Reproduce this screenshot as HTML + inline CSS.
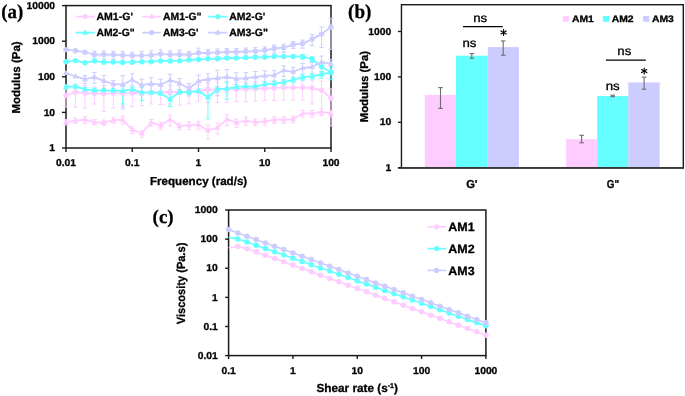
<!DOCTYPE html>
<html><head><meta charset="utf-8"><title>Rheology figure</title>
<style>
html,body{margin:0;padding:0;background:#fff;}
body{width:685px;height:396px;overflow:hidden;font-family:"Liberation Sans",sans-serif;}
#wrap{will-change:transform;width:685px;height:396px;}
svg{display:block;text-rendering:geometricPrecision;}
text{stroke:#000;stroke-width:0.3px;stroke-linejoin:round;}
</style></head><body>
<div id="wrap"><svg width="685" height="396" viewBox="0 0 685 396">
<rect x="66" y="5.6" width="265" height="142.4" fill="none" stroke="#1a1a1a" stroke-width="1.5"/>
<g>
<line x1="66" y1="88.98" x2="66" y2="107" stroke="#FFCCFF" stroke-width="1"/>
<line x1="63.8" y1="88.98" x2="68.2" y2="88.98" stroke="#FFCCFF" stroke-width="1"/>
<line x1="63.8" y1="107" x2="68.2" y2="107" stroke="#FFCCFF" stroke-width="1"/>
<line x1="66" y1="119.6" x2="66" y2="125.08" stroke="#FFCCFF" stroke-width="1"/>
<line x1="63.8" y1="119.6" x2="68.2" y2="119.6" stroke="#FFCCFF" stroke-width="1"/>
<line x1="63.8" y1="125.08" x2="68.2" y2="125.08" stroke="#FFCCFF" stroke-width="1"/>
<line x1="66" y1="84.8" x2="66" y2="89.1" stroke="#66FFFF" stroke-width="1"/>
<line x1="63.8" y1="84.8" x2="68.2" y2="84.8" stroke="#66FFFF" stroke-width="1"/>
<line x1="63.8" y1="89.1" x2="68.2" y2="89.1" stroke="#66FFFF" stroke-width="1"/>
<line x1="66" y1="61.2" x2="66" y2="62.42" stroke="#66FFFF" stroke-width="1"/>
<line x1="63.8" y1="61.2" x2="68.2" y2="61.2" stroke="#66FFFF" stroke-width="1"/>
<line x1="63.8" y1="62.42" x2="68.2" y2="62.42" stroke="#66FFFF" stroke-width="1"/>
<line x1="75.46" y1="84.59" x2="75.46" y2="107.3" stroke="#FFCCFF" stroke-width="1"/>
<line x1="73.26" y1="84.59" x2="77.66" y2="84.59" stroke="#FFCCFF" stroke-width="1"/>
<line x1="73.26" y1="107.3" x2="77.66" y2="107.3" stroke="#FFCCFF" stroke-width="1"/>
<line x1="75.46" y1="118.1" x2="75.46" y2="123.58" stroke="#FFCCFF" stroke-width="1"/>
<line x1="73.26" y1="118.1" x2="77.66" y2="118.1" stroke="#FFCCFF" stroke-width="1"/>
<line x1="73.26" y1="123.58" x2="77.66" y2="123.58" stroke="#FFCCFF" stroke-width="1"/>
<line x1="75.46" y1="84.4" x2="75.46" y2="88.7" stroke="#66FFFF" stroke-width="1"/>
<line x1="73.26" y1="84.4" x2="77.66" y2="84.4" stroke="#66FFFF" stroke-width="1"/>
<line x1="73.26" y1="88.7" x2="77.66" y2="88.7" stroke="#66FFFF" stroke-width="1"/>
<line x1="75.46" y1="60" x2="75.46" y2="61.22" stroke="#66FFFF" stroke-width="1"/>
<line x1="73.26" y1="60" x2="77.66" y2="60" stroke="#66FFFF" stroke-width="1"/>
<line x1="73.26" y1="61.22" x2="77.66" y2="61.22" stroke="#66FFFF" stroke-width="1"/>
<line x1="84.93" y1="85.41" x2="84.93" y2="108" stroke="#FFCCFF" stroke-width="1"/>
<line x1="82.73" y1="85.41" x2="87.13" y2="85.41" stroke="#FFCCFF" stroke-width="1"/>
<line x1="82.73" y1="108" x2="87.13" y2="108" stroke="#FFCCFF" stroke-width="1"/>
<line x1="84.93" y1="116.7" x2="84.93" y2="123.43" stroke="#FFCCFF" stroke-width="1"/>
<line x1="82.73" y1="116.7" x2="87.13" y2="116.7" stroke="#FFCCFF" stroke-width="1"/>
<line x1="82.73" y1="123.43" x2="87.13" y2="123.43" stroke="#FFCCFF" stroke-width="1"/>
<line x1="84.93" y1="75.5" x2="84.93" y2="83.8" stroke="#CCCCFF" stroke-width="1"/>
<line x1="82.73" y1="75.5" x2="87.13" y2="75.5" stroke="#CCCCFF" stroke-width="1"/>
<line x1="82.73" y1="83.8" x2="87.13" y2="83.8" stroke="#CCCCFF" stroke-width="1"/>
<line x1="84.93" y1="87.4" x2="84.93" y2="91.7" stroke="#66FFFF" stroke-width="1"/>
<line x1="82.73" y1="87.4" x2="87.13" y2="87.4" stroke="#66FFFF" stroke-width="1"/>
<line x1="82.73" y1="91.7" x2="87.13" y2="91.7" stroke="#66FFFF" stroke-width="1"/>
<line x1="84.93" y1="62.2" x2="84.93" y2="63.42" stroke="#66FFFF" stroke-width="1"/>
<line x1="82.73" y1="62.2" x2="87.13" y2="62.2" stroke="#66FFFF" stroke-width="1"/>
<line x1="82.73" y1="63.42" x2="87.13" y2="63.42" stroke="#66FFFF" stroke-width="1"/>
<line x1="94.39" y1="87.04" x2="94.39" y2="104" stroke="#FFCCFF" stroke-width="1"/>
<line x1="92.19" y1="87.04" x2="96.59" y2="87.04" stroke="#FFCCFF" stroke-width="1"/>
<line x1="92.19" y1="104" x2="96.59" y2="104" stroke="#FFCCFF" stroke-width="1"/>
<line x1="94.39" y1="119.6" x2="94.39" y2="125.08" stroke="#FFCCFF" stroke-width="1"/>
<line x1="92.19" y1="119.6" x2="96.59" y2="119.6" stroke="#FFCCFF" stroke-width="1"/>
<line x1="92.19" y1="125.08" x2="96.59" y2="125.08" stroke="#FFCCFF" stroke-width="1"/>
<line x1="94.39" y1="72.7" x2="94.39" y2="83.27" stroke="#CCCCFF" stroke-width="1"/>
<line x1="92.19" y1="72.7" x2="96.59" y2="72.7" stroke="#CCCCFF" stroke-width="1"/>
<line x1="92.19" y1="83.27" x2="96.59" y2="83.27" stroke="#CCCCFF" stroke-width="1"/>
<line x1="94.39" y1="88.3" x2="94.39" y2="92.6" stroke="#66FFFF" stroke-width="1"/>
<line x1="92.19" y1="88.3" x2="96.59" y2="88.3" stroke="#66FFFF" stroke-width="1"/>
<line x1="92.19" y1="92.6" x2="96.59" y2="92.6" stroke="#66FFFF" stroke-width="1"/>
<line x1="94.39" y1="51.2" x2="94.39" y2="59.23" stroke="#CCCCFF" stroke-width="1"/>
<line x1="92.19" y1="51.2" x2="96.59" y2="51.2" stroke="#CCCCFF" stroke-width="1"/>
<line x1="92.19" y1="59.23" x2="96.59" y2="59.23" stroke="#CCCCFF" stroke-width="1"/>
<line x1="94.39" y1="60.3" x2="94.39" y2="61.52" stroke="#66FFFF" stroke-width="1"/>
<line x1="92.19" y1="60.3" x2="96.59" y2="60.3" stroke="#66FFFF" stroke-width="1"/>
<line x1="92.19" y1="61.52" x2="96.59" y2="61.52" stroke="#66FFFF" stroke-width="1"/>
<line x1="103.86" y1="85.54" x2="103.86" y2="111.4" stroke="#FFCCFF" stroke-width="1"/>
<line x1="101.66" y1="85.54" x2="106.06" y2="85.54" stroke="#FFCCFF" stroke-width="1"/>
<line x1="101.66" y1="111.4" x2="106.06" y2="111.4" stroke="#FFCCFF" stroke-width="1"/>
<line x1="103.86" y1="120.2" x2="103.86" y2="125.68" stroke="#FFCCFF" stroke-width="1"/>
<line x1="101.66" y1="120.2" x2="106.06" y2="120.2" stroke="#FFCCFF" stroke-width="1"/>
<line x1="101.66" y1="125.68" x2="106.06" y2="125.68" stroke="#FFCCFF" stroke-width="1"/>
<line x1="103.86" y1="75.5" x2="103.86" y2="89.27" stroke="#CCCCFF" stroke-width="1"/>
<line x1="101.66" y1="75.5" x2="106.06" y2="75.5" stroke="#CCCCFF" stroke-width="1"/>
<line x1="101.66" y1="89.27" x2="106.06" y2="89.27" stroke="#CCCCFF" stroke-width="1"/>
<line x1="103.86" y1="88.3" x2="103.86" y2="92.6" stroke="#66FFFF" stroke-width="1"/>
<line x1="101.66" y1="88.3" x2="106.06" y2="88.3" stroke="#66FFFF" stroke-width="1"/>
<line x1="101.66" y1="92.6" x2="106.06" y2="92.6" stroke="#66FFFF" stroke-width="1"/>
<line x1="103.86" y1="50.9" x2="103.86" y2="58.93" stroke="#CCCCFF" stroke-width="1"/>
<line x1="101.66" y1="50.9" x2="106.06" y2="50.9" stroke="#CCCCFF" stroke-width="1"/>
<line x1="101.66" y1="58.93" x2="106.06" y2="58.93" stroke="#CCCCFF" stroke-width="1"/>
<line x1="103.86" y1="61.7" x2="103.86" y2="62.92" stroke="#66FFFF" stroke-width="1"/>
<line x1="101.66" y1="61.7" x2="106.06" y2="61.7" stroke="#66FFFF" stroke-width="1"/>
<line x1="101.66" y1="62.92" x2="106.06" y2="62.92" stroke="#66FFFF" stroke-width="1"/>
<line x1="113.32" y1="85.9" x2="113.32" y2="108" stroke="#FFCCFF" stroke-width="1"/>
<line x1="111.12" y1="85.9" x2="115.52" y2="85.9" stroke="#FFCCFF" stroke-width="1"/>
<line x1="111.12" y1="108" x2="115.52" y2="108" stroke="#FFCCFF" stroke-width="1"/>
<line x1="113.32" y1="117.7" x2="113.32" y2="123.18" stroke="#FFCCFF" stroke-width="1"/>
<line x1="111.12" y1="117.7" x2="115.52" y2="117.7" stroke="#FFCCFF" stroke-width="1"/>
<line x1="111.12" y1="123.18" x2="115.52" y2="123.18" stroke="#FFCCFF" stroke-width="1"/>
<line x1="113.32" y1="80.6" x2="113.32" y2="88.1" stroke="#CCCCFF" stroke-width="1"/>
<line x1="111.12" y1="80.6" x2="115.52" y2="80.6" stroke="#CCCCFF" stroke-width="1"/>
<line x1="111.12" y1="88.1" x2="115.52" y2="88.1" stroke="#CCCCFF" stroke-width="1"/>
<line x1="113.32" y1="88.6" x2="113.32" y2="92.9" stroke="#66FFFF" stroke-width="1"/>
<line x1="111.12" y1="88.6" x2="115.52" y2="88.6" stroke="#66FFFF" stroke-width="1"/>
<line x1="111.12" y1="92.9" x2="115.52" y2="92.9" stroke="#66FFFF" stroke-width="1"/>
<line x1="113.32" y1="51.2" x2="113.32" y2="59.23" stroke="#CCCCFF" stroke-width="1"/>
<line x1="111.12" y1="51.2" x2="115.52" y2="51.2" stroke="#CCCCFF" stroke-width="1"/>
<line x1="111.12" y1="59.23" x2="115.52" y2="59.23" stroke="#CCCCFF" stroke-width="1"/>
<line x1="113.32" y1="61.4" x2="113.32" y2="62.62" stroke="#66FFFF" stroke-width="1"/>
<line x1="111.12" y1="61.4" x2="115.52" y2="61.4" stroke="#66FFFF" stroke-width="1"/>
<line x1="111.12" y1="62.62" x2="115.52" y2="62.62" stroke="#66FFFF" stroke-width="1"/>
<line x1="122.79" y1="86.28" x2="122.79" y2="106.5" stroke="#FFCCFF" stroke-width="1"/>
<line x1="120.59" y1="86.28" x2="124.99" y2="86.28" stroke="#FFCCFF" stroke-width="1"/>
<line x1="120.59" y1="106.5" x2="124.99" y2="106.5" stroke="#FFCCFF" stroke-width="1"/>
<line x1="122.79" y1="116.1" x2="122.79" y2="124.13" stroke="#FFCCFF" stroke-width="1"/>
<line x1="120.59" y1="116.1" x2="124.99" y2="116.1" stroke="#FFCCFF" stroke-width="1"/>
<line x1="120.59" y1="124.13" x2="124.99" y2="124.13" stroke="#FFCCFF" stroke-width="1"/>
<line x1="122.79" y1="75.7" x2="122.79" y2="108.82" stroke="#CCCCFF" stroke-width="1"/>
<line x1="120.59" y1="75.7" x2="124.99" y2="75.7" stroke="#CCCCFF" stroke-width="1"/>
<line x1="120.59" y1="108.82" x2="124.99" y2="108.82" stroke="#CCCCFF" stroke-width="1"/>
<line x1="122.79" y1="83.91" x2="122.79" y2="104" stroke="#66FFFF" stroke-width="1"/>
<line x1="120.59" y1="83.91" x2="124.99" y2="83.91" stroke="#66FFFF" stroke-width="1"/>
<line x1="120.59" y1="104" x2="124.99" y2="104" stroke="#66FFFF" stroke-width="1"/>
<line x1="122.79" y1="51.4" x2="122.79" y2="60.25" stroke="#CCCCFF" stroke-width="1"/>
<line x1="120.59" y1="51.4" x2="124.99" y2="51.4" stroke="#CCCCFF" stroke-width="1"/>
<line x1="120.59" y1="60.25" x2="124.99" y2="60.25" stroke="#CCCCFF" stroke-width="1"/>
<line x1="122.79" y1="61.8" x2="122.79" y2="63.02" stroke="#66FFFF" stroke-width="1"/>
<line x1="120.59" y1="61.8" x2="124.99" y2="61.8" stroke="#66FFFF" stroke-width="1"/>
<line x1="120.59" y1="63.02" x2="124.99" y2="63.02" stroke="#66FFFF" stroke-width="1"/>
<line x1="132.25" y1="85.78" x2="132.25" y2="106.5" stroke="#FFCCFF" stroke-width="1"/>
<line x1="130.05" y1="85.78" x2="134.45" y2="85.78" stroke="#FFCCFF" stroke-width="1"/>
<line x1="130.05" y1="106.5" x2="134.45" y2="106.5" stroke="#FFCCFF" stroke-width="1"/>
<line x1="132.25" y1="126.8" x2="132.25" y2="133.53" stroke="#FFCCFF" stroke-width="1"/>
<line x1="130.05" y1="126.8" x2="134.45" y2="126.8" stroke="#FFCCFF" stroke-width="1"/>
<line x1="130.05" y1="133.53" x2="134.45" y2="133.53" stroke="#FFCCFF" stroke-width="1"/>
<line x1="132.25" y1="73.7" x2="132.25" y2="89.64" stroke="#CCCCFF" stroke-width="1"/>
<line x1="130.05" y1="73.7" x2="134.45" y2="73.7" stroke="#CCCCFF" stroke-width="1"/>
<line x1="130.05" y1="89.64" x2="134.45" y2="89.64" stroke="#CCCCFF" stroke-width="1"/>
<line x1="132.25" y1="86.9" x2="132.25" y2="92.38" stroke="#66FFFF" stroke-width="1"/>
<line x1="130.05" y1="86.9" x2="134.45" y2="86.9" stroke="#66FFFF" stroke-width="1"/>
<line x1="130.05" y1="92.38" x2="134.45" y2="92.38" stroke="#66FFFF" stroke-width="1"/>
<line x1="132.25" y1="52.1" x2="132.25" y2="60.4" stroke="#CCCCFF" stroke-width="1"/>
<line x1="130.05" y1="52.1" x2="134.45" y2="52.1" stroke="#CCCCFF" stroke-width="1"/>
<line x1="130.05" y1="60.4" x2="134.45" y2="60.4" stroke="#CCCCFF" stroke-width="1"/>
<line x1="132.25" y1="61.6" x2="132.25" y2="62.82" stroke="#66FFFF" stroke-width="1"/>
<line x1="130.05" y1="61.6" x2="134.45" y2="61.6" stroke="#66FFFF" stroke-width="1"/>
<line x1="130.05" y1="62.82" x2="134.45" y2="62.82" stroke="#66FFFF" stroke-width="1"/>
<line x1="141.71" y1="86.05" x2="141.71" y2="105.5" stroke="#FFCCFF" stroke-width="1"/>
<line x1="139.51" y1="86.05" x2="143.91" y2="86.05" stroke="#FFCCFF" stroke-width="1"/>
<line x1="139.51" y1="105.5" x2="143.91" y2="105.5" stroke="#FFCCFF" stroke-width="1"/>
<line x1="141.71" y1="130.5" x2="141.71" y2="137.23" stroke="#FFCCFF" stroke-width="1"/>
<line x1="139.51" y1="130.5" x2="143.91" y2="130.5" stroke="#FFCCFF" stroke-width="1"/>
<line x1="139.51" y1="137.23" x2="143.91" y2="137.23" stroke="#FFCCFF" stroke-width="1"/>
<line x1="141.71" y1="79.2" x2="141.71" y2="95.14" stroke="#CCCCFF" stroke-width="1"/>
<line x1="139.51" y1="79.2" x2="143.91" y2="79.2" stroke="#CCCCFF" stroke-width="1"/>
<line x1="139.51" y1="95.14" x2="143.91" y2="95.14" stroke="#CCCCFF" stroke-width="1"/>
<line x1="141.71" y1="87.11" x2="141.71" y2="100.5" stroke="#66FFFF" stroke-width="1"/>
<line x1="139.51" y1="87.11" x2="143.91" y2="87.11" stroke="#66FFFF" stroke-width="1"/>
<line x1="139.51" y1="100.5" x2="143.91" y2="100.5" stroke="#66FFFF" stroke-width="1"/>
<line x1="141.71" y1="51.4" x2="141.71" y2="61.38" stroke="#CCCCFF" stroke-width="1"/>
<line x1="139.51" y1="51.4" x2="143.91" y2="51.4" stroke="#CCCCFF" stroke-width="1"/>
<line x1="139.51" y1="61.38" x2="143.91" y2="61.38" stroke="#CCCCFF" stroke-width="1"/>
<line x1="141.71" y1="61.1" x2="141.71" y2="62.32" stroke="#66FFFF" stroke-width="1"/>
<line x1="139.51" y1="61.1" x2="143.91" y2="61.1" stroke="#66FFFF" stroke-width="1"/>
<line x1="139.51" y1="62.32" x2="143.91" y2="62.32" stroke="#66FFFF" stroke-width="1"/>
<line x1="151.18" y1="85.88" x2="151.18" y2="103.9" stroke="#FFCCFF" stroke-width="1"/>
<line x1="148.98" y1="85.88" x2="153.38" y2="85.88" stroke="#FFCCFF" stroke-width="1"/>
<line x1="148.98" y1="103.9" x2="153.38" y2="103.9" stroke="#FFCCFF" stroke-width="1"/>
<line x1="151.18" y1="119.5" x2="151.18" y2="126.23" stroke="#FFCCFF" stroke-width="1"/>
<line x1="148.98" y1="119.5" x2="153.38" y2="119.5" stroke="#FFCCFF" stroke-width="1"/>
<line x1="148.98" y1="126.23" x2="153.38" y2="126.23" stroke="#FFCCFF" stroke-width="1"/>
<line x1="151.18" y1="77.6" x2="151.18" y2="93.54" stroke="#CCCCFF" stroke-width="1"/>
<line x1="148.98" y1="77.6" x2="153.38" y2="77.6" stroke="#CCCCFF" stroke-width="1"/>
<line x1="148.98" y1="93.54" x2="153.38" y2="93.54" stroke="#CCCCFF" stroke-width="1"/>
<line x1="151.18" y1="90.4" x2="151.18" y2="94.7" stroke="#66FFFF" stroke-width="1"/>
<line x1="148.98" y1="90.4" x2="153.38" y2="90.4" stroke="#66FFFF" stroke-width="1"/>
<line x1="148.98" y1="94.7" x2="153.38" y2="94.7" stroke="#66FFFF" stroke-width="1"/>
<line x1="151.18" y1="50.9" x2="151.18" y2="61.18" stroke="#CCCCFF" stroke-width="1"/>
<line x1="148.98" y1="50.9" x2="153.38" y2="50.9" stroke="#CCCCFF" stroke-width="1"/>
<line x1="148.98" y1="61.18" x2="153.38" y2="61.18" stroke="#CCCCFF" stroke-width="1"/>
<line x1="151.18" y1="61.1" x2="151.18" y2="62.32" stroke="#66FFFF" stroke-width="1"/>
<line x1="148.98" y1="61.1" x2="153.38" y2="61.1" stroke="#66FFFF" stroke-width="1"/>
<line x1="148.98" y1="62.32" x2="153.38" y2="62.32" stroke="#66FFFF" stroke-width="1"/>
<line x1="160.64" y1="85.7" x2="160.64" y2="104.5" stroke="#FFCCFF" stroke-width="1"/>
<line x1="158.44" y1="85.7" x2="162.84" y2="85.7" stroke="#FFCCFF" stroke-width="1"/>
<line x1="158.44" y1="104.5" x2="162.84" y2="104.5" stroke="#FFCCFF" stroke-width="1"/>
<line x1="160.64" y1="122.4" x2="160.64" y2="129.13" stroke="#FFCCFF" stroke-width="1"/>
<line x1="158.44" y1="122.4" x2="162.84" y2="122.4" stroke="#FFCCFF" stroke-width="1"/>
<line x1="158.44" y1="129.13" x2="162.84" y2="129.13" stroke="#FFCCFF" stroke-width="1"/>
<line x1="160.64" y1="79.2" x2="160.64" y2="93.32" stroke="#CCCCFF" stroke-width="1"/>
<line x1="158.44" y1="79.2" x2="162.84" y2="79.2" stroke="#CCCCFF" stroke-width="1"/>
<line x1="158.44" y1="93.32" x2="162.84" y2="93.32" stroke="#CCCCFF" stroke-width="1"/>
<line x1="160.64" y1="90.9" x2="160.64" y2="95.2" stroke="#66FFFF" stroke-width="1"/>
<line x1="158.44" y1="90.9" x2="162.84" y2="90.9" stroke="#66FFFF" stroke-width="1"/>
<line x1="158.44" y1="95.2" x2="162.84" y2="95.2" stroke="#66FFFF" stroke-width="1"/>
<line x1="160.64" y1="49.8" x2="160.64" y2="59.5" stroke="#CCCCFF" stroke-width="1"/>
<line x1="158.44" y1="49.8" x2="162.84" y2="49.8" stroke="#CCCCFF" stroke-width="1"/>
<line x1="158.44" y1="59.5" x2="162.84" y2="59.5" stroke="#CCCCFF" stroke-width="1"/>
<line x1="160.64" y1="60.3" x2="160.64" y2="61.52" stroke="#66FFFF" stroke-width="1"/>
<line x1="158.44" y1="60.3" x2="162.84" y2="60.3" stroke="#66FFFF" stroke-width="1"/>
<line x1="158.44" y1="61.52" x2="162.84" y2="61.52" stroke="#66FFFF" stroke-width="1"/>
<line x1="170.11" y1="85.4" x2="170.11" y2="104.2" stroke="#FFCCFF" stroke-width="1"/>
<line x1="167.91" y1="85.4" x2="172.31" y2="85.4" stroke="#FFCCFF" stroke-width="1"/>
<line x1="167.91" y1="104.2" x2="172.31" y2="104.2" stroke="#FFCCFF" stroke-width="1"/>
<line x1="170.11" y1="115.1" x2="170.11" y2="125.97" stroke="#FFCCFF" stroke-width="1"/>
<line x1="167.91" y1="115.1" x2="172.31" y2="115.1" stroke="#FFCCFF" stroke-width="1"/>
<line x1="167.91" y1="125.97" x2="172.31" y2="125.97" stroke="#FFCCFF" stroke-width="1"/>
<line x1="170.11" y1="74.2" x2="170.11" y2="90.14" stroke="#CCCCFF" stroke-width="1"/>
<line x1="167.91" y1="74.2" x2="172.31" y2="74.2" stroke="#CCCCFF" stroke-width="1"/>
<line x1="167.91" y1="90.14" x2="172.31" y2="90.14" stroke="#CCCCFF" stroke-width="1"/>
<line x1="170.11" y1="94.55" x2="170.11" y2="106.5" stroke="#66FFFF" stroke-width="1"/>
<line x1="167.91" y1="94.55" x2="172.31" y2="94.55" stroke="#66FFFF" stroke-width="1"/>
<line x1="167.91" y1="106.5" x2="172.31" y2="106.5" stroke="#66FFFF" stroke-width="1"/>
<line x1="170.11" y1="50.9" x2="170.11" y2="59.75" stroke="#CCCCFF" stroke-width="1"/>
<line x1="167.91" y1="50.9" x2="172.31" y2="50.9" stroke="#CCCCFF" stroke-width="1"/>
<line x1="167.91" y1="59.75" x2="172.31" y2="59.75" stroke="#CCCCFF" stroke-width="1"/>
<line x1="170.11" y1="60.3" x2="170.11" y2="61.52" stroke="#66FFFF" stroke-width="1"/>
<line x1="167.91" y1="60.3" x2="172.31" y2="60.3" stroke="#66FFFF" stroke-width="1"/>
<line x1="167.91" y1="61.52" x2="172.31" y2="61.52" stroke="#66FFFF" stroke-width="1"/>
<line x1="179.57" y1="85.17" x2="179.57" y2="105" stroke="#FFCCFF" stroke-width="1"/>
<line x1="177.37" y1="85.17" x2="181.77" y2="85.17" stroke="#FFCCFF" stroke-width="1"/>
<line x1="177.37" y1="105" x2="181.77" y2="105" stroke="#FFCCFF" stroke-width="1"/>
<line x1="179.57" y1="123.2" x2="179.57" y2="129.93" stroke="#FFCCFF" stroke-width="1"/>
<line x1="177.37" y1="123.2" x2="181.77" y2="123.2" stroke="#FFCCFF" stroke-width="1"/>
<line x1="177.37" y1="129.93" x2="181.77" y2="129.93" stroke="#FFCCFF" stroke-width="1"/>
<line x1="179.57" y1="78.7" x2="179.57" y2="89.57" stroke="#CCCCFF" stroke-width="1"/>
<line x1="177.37" y1="78.7" x2="181.77" y2="78.7" stroke="#CCCCFF" stroke-width="1"/>
<line x1="177.37" y1="89.57" x2="181.77" y2="89.57" stroke="#CCCCFF" stroke-width="1"/>
<line x1="179.57" y1="89.8" x2="179.57" y2="94.1" stroke="#66FFFF" stroke-width="1"/>
<line x1="177.37" y1="89.8" x2="181.77" y2="89.8" stroke="#66FFFF" stroke-width="1"/>
<line x1="177.37" y1="94.1" x2="181.77" y2="94.1" stroke="#66FFFF" stroke-width="1"/>
<line x1="179.57" y1="50.3" x2="179.57" y2="60" stroke="#CCCCFF" stroke-width="1"/>
<line x1="177.37" y1="50.3" x2="181.77" y2="50.3" stroke="#CCCCFF" stroke-width="1"/>
<line x1="177.37" y1="60" x2="181.77" y2="60" stroke="#CCCCFF" stroke-width="1"/>
<line x1="179.57" y1="60.3" x2="179.57" y2="61.52" stroke="#66FFFF" stroke-width="1"/>
<line x1="177.37" y1="60.3" x2="181.77" y2="60.3" stroke="#66FFFF" stroke-width="1"/>
<line x1="177.37" y1="61.52" x2="181.77" y2="61.52" stroke="#66FFFF" stroke-width="1"/>
<line x1="189.04" y1="85.1" x2="189.04" y2="103.9" stroke="#FFCCFF" stroke-width="1"/>
<line x1="186.84" y1="85.1" x2="191.24" y2="85.1" stroke="#FFCCFF" stroke-width="1"/>
<line x1="186.84" y1="103.9" x2="191.24" y2="103.9" stroke="#FFCCFF" stroke-width="1"/>
<line x1="189.04" y1="121.6" x2="189.04" y2="129.63" stroke="#FFCCFF" stroke-width="1"/>
<line x1="186.84" y1="121.6" x2="191.24" y2="121.6" stroke="#FFCCFF" stroke-width="1"/>
<line x1="186.84" y1="129.63" x2="191.24" y2="129.63" stroke="#FFCCFF" stroke-width="1"/>
<line x1="189.04" y1="83.5" x2="189.04" y2="95.94" stroke="#CCCCFF" stroke-width="1"/>
<line x1="186.84" y1="83.5" x2="191.24" y2="83.5" stroke="#CCCCFF" stroke-width="1"/>
<line x1="186.84" y1="95.94" x2="191.24" y2="95.94" stroke="#CCCCFF" stroke-width="1"/>
<line x1="189.04" y1="90.1" x2="189.04" y2="94.4" stroke="#66FFFF" stroke-width="1"/>
<line x1="186.84" y1="90.1" x2="191.24" y2="90.1" stroke="#66FFFF" stroke-width="1"/>
<line x1="186.84" y1="94.4" x2="191.24" y2="94.4" stroke="#66FFFF" stroke-width="1"/>
<line x1="189.04" y1="51.4" x2="189.04" y2="58.9" stroke="#CCCCFF" stroke-width="1"/>
<line x1="186.84" y1="51.4" x2="191.24" y2="51.4" stroke="#CCCCFF" stroke-width="1"/>
<line x1="186.84" y1="58.9" x2="191.24" y2="58.9" stroke="#CCCCFF" stroke-width="1"/>
<line x1="189.04" y1="59.4" x2="189.04" y2="60.62" stroke="#66FFFF" stroke-width="1"/>
<line x1="186.84" y1="59.4" x2="191.24" y2="59.4" stroke="#66FFFF" stroke-width="1"/>
<line x1="186.84" y1="60.62" x2="191.24" y2="60.62" stroke="#66FFFF" stroke-width="1"/>
<line x1="198.5" y1="84.91" x2="198.5" y2="101.2" stroke="#FFCCFF" stroke-width="1"/>
<line x1="196.3" y1="84.91" x2="200.7" y2="84.91" stroke="#FFCCFF" stroke-width="1"/>
<line x1="196.3" y1="101.2" x2="200.7" y2="101.2" stroke="#FFCCFF" stroke-width="1"/>
<line x1="198.5" y1="121.2" x2="198.5" y2="129.23" stroke="#FFCCFF" stroke-width="1"/>
<line x1="196.3" y1="121.2" x2="200.7" y2="121.2" stroke="#FFCCFF" stroke-width="1"/>
<line x1="196.3" y1="129.23" x2="200.7" y2="129.23" stroke="#FFCCFF" stroke-width="1"/>
<line x1="198.5" y1="75" x2="198.5" y2="90.94" stroke="#CCCCFF" stroke-width="1"/>
<line x1="196.3" y1="75" x2="200.7" y2="75" stroke="#CCCCFF" stroke-width="1"/>
<line x1="196.3" y1="90.94" x2="200.7" y2="90.94" stroke="#CCCCFF" stroke-width="1"/>
<line x1="198.5" y1="89" x2="198.5" y2="93.3" stroke="#66FFFF" stroke-width="1"/>
<line x1="196.3" y1="89" x2="200.7" y2="89" stroke="#66FFFF" stroke-width="1"/>
<line x1="196.3" y1="93.3" x2="200.7" y2="93.3" stroke="#66FFFF" stroke-width="1"/>
<line x1="198.5" y1="48.2" x2="198.5" y2="59.38" stroke="#CCCCFF" stroke-width="1"/>
<line x1="196.3" y1="48.2" x2="200.7" y2="48.2" stroke="#CCCCFF" stroke-width="1"/>
<line x1="196.3" y1="59.38" x2="200.7" y2="59.38" stroke="#CCCCFF" stroke-width="1"/>
<line x1="198.5" y1="58.9" x2="198.5" y2="60.12" stroke="#66FFFF" stroke-width="1"/>
<line x1="196.3" y1="58.9" x2="200.7" y2="58.9" stroke="#66FFFF" stroke-width="1"/>
<line x1="196.3" y1="60.12" x2="200.7" y2="60.12" stroke="#66FFFF" stroke-width="1"/>
<line x1="207.96" y1="82.77" x2="207.96" y2="102.6" stroke="#FFCCFF" stroke-width="1"/>
<line x1="205.76" y1="82.77" x2="210.16" y2="82.77" stroke="#FFCCFF" stroke-width="1"/>
<line x1="205.76" y1="102.6" x2="210.16" y2="102.6" stroke="#FFCCFF" stroke-width="1"/>
<line x1="207.96" y1="125" x2="207.96" y2="139.12" stroke="#FFCCFF" stroke-width="1"/>
<line x1="205.76" y1="125" x2="210.16" y2="125" stroke="#FFCCFF" stroke-width="1"/>
<line x1="205.76" y1="139.12" x2="210.16" y2="139.12" stroke="#FFCCFF" stroke-width="1"/>
<line x1="207.96" y1="73.7" x2="207.96" y2="87.82" stroke="#CCCCFF" stroke-width="1"/>
<line x1="205.76" y1="73.7" x2="210.16" y2="73.7" stroke="#CCCCFF" stroke-width="1"/>
<line x1="205.76" y1="87.82" x2="210.16" y2="87.82" stroke="#CCCCFF" stroke-width="1"/>
<line x1="207.96" y1="88.64" x2="207.96" y2="118.8" stroke="#66FFFF" stroke-width="1"/>
<line x1="205.76" y1="88.64" x2="210.16" y2="88.64" stroke="#66FFFF" stroke-width="1"/>
<line x1="205.76" y1="118.8" x2="210.16" y2="118.8" stroke="#66FFFF" stroke-width="1"/>
<line x1="207.96" y1="49.5" x2="207.96" y2="57.53" stroke="#CCCCFF" stroke-width="1"/>
<line x1="205.76" y1="49.5" x2="210.16" y2="49.5" stroke="#CCCCFF" stroke-width="1"/>
<line x1="205.76" y1="57.53" x2="210.16" y2="57.53" stroke="#CCCCFF" stroke-width="1"/>
<line x1="207.96" y1="58.2" x2="207.96" y2="59.42" stroke="#66FFFF" stroke-width="1"/>
<line x1="205.76" y1="58.2" x2="210.16" y2="58.2" stroke="#66FFFF" stroke-width="1"/>
<line x1="205.76" y1="59.42" x2="210.16" y2="59.42" stroke="#66FFFF" stroke-width="1"/>
<line x1="217.43" y1="82.38" x2="217.43" y2="102.6" stroke="#FFCCFF" stroke-width="1"/>
<line x1="215.23" y1="82.38" x2="219.63" y2="82.38" stroke="#FFCCFF" stroke-width="1"/>
<line x1="215.23" y1="102.6" x2="219.63" y2="102.6" stroke="#FFCCFF" stroke-width="1"/>
<line x1="217.43" y1="123.1" x2="217.43" y2="133.97" stroke="#FFCCFF" stroke-width="1"/>
<line x1="215.23" y1="123.1" x2="219.63" y2="123.1" stroke="#FFCCFF" stroke-width="1"/>
<line x1="215.23" y1="133.97" x2="219.63" y2="133.97" stroke="#FFCCFF" stroke-width="1"/>
<line x1="217.43" y1="70.2" x2="217.43" y2="95.71" stroke="#CCCCFF" stroke-width="1"/>
<line x1="215.23" y1="70.2" x2="219.63" y2="70.2" stroke="#CCCCFF" stroke-width="1"/>
<line x1="215.23" y1="95.71" x2="219.63" y2="95.71" stroke="#CCCCFF" stroke-width="1"/>
<line x1="217.43" y1="86.7" x2="217.43" y2="92.18" stroke="#66FFFF" stroke-width="1"/>
<line x1="215.23" y1="86.7" x2="219.63" y2="86.7" stroke="#66FFFF" stroke-width="1"/>
<line x1="215.23" y1="92.18" x2="219.63" y2="92.18" stroke="#66FFFF" stroke-width="1"/>
<line x1="217.43" y1="48.9" x2="217.43" y2="56.93" stroke="#CCCCFF" stroke-width="1"/>
<line x1="215.23" y1="48.9" x2="219.63" y2="48.9" stroke="#CCCCFF" stroke-width="1"/>
<line x1="215.23" y1="56.93" x2="219.63" y2="56.93" stroke="#CCCCFF" stroke-width="1"/>
<line x1="217.43" y1="58.2" x2="217.43" y2="59.42" stroke="#66FFFF" stroke-width="1"/>
<line x1="215.23" y1="58.2" x2="219.63" y2="58.2" stroke="#66FFFF" stroke-width="1"/>
<line x1="215.23" y1="59.42" x2="219.63" y2="59.42" stroke="#66FFFF" stroke-width="1"/>
<line x1="226.89" y1="81.75" x2="226.89" y2="102.6" stroke="#FFCCFF" stroke-width="1"/>
<line x1="224.69" y1="81.75" x2="229.09" y2="81.75" stroke="#FFCCFF" stroke-width="1"/>
<line x1="224.69" y1="102.6" x2="229.09" y2="102.6" stroke="#FFCCFF" stroke-width="1"/>
<line x1="226.89" y1="114.6" x2="226.89" y2="125.47" stroke="#FFCCFF" stroke-width="1"/>
<line x1="224.69" y1="114.6" x2="229.09" y2="114.6" stroke="#FFCCFF" stroke-width="1"/>
<line x1="224.69" y1="125.47" x2="229.09" y2="125.47" stroke="#FFCCFF" stroke-width="1"/>
<line x1="226.89" y1="69.5" x2="226.89" y2="92.14" stroke="#CCCCFF" stroke-width="1"/>
<line x1="224.69" y1="69.5" x2="229.09" y2="69.5" stroke="#CCCCFF" stroke-width="1"/>
<line x1="224.69" y1="92.14" x2="229.09" y2="92.14" stroke="#CCCCFF" stroke-width="1"/>
<line x1="226.89" y1="82.34" x2="226.89" y2="99.3" stroke="#66FFFF" stroke-width="1"/>
<line x1="224.69" y1="82.34" x2="229.09" y2="82.34" stroke="#66FFFF" stroke-width="1"/>
<line x1="224.69" y1="99.3" x2="229.09" y2="99.3" stroke="#66FFFF" stroke-width="1"/>
<line x1="226.89" y1="48.5" x2="226.89" y2="56.53" stroke="#CCCCFF" stroke-width="1"/>
<line x1="224.69" y1="48.5" x2="229.09" y2="48.5" stroke="#CCCCFF" stroke-width="1"/>
<line x1="224.69" y1="56.53" x2="229.09" y2="56.53" stroke="#CCCCFF" stroke-width="1"/>
<line x1="226.89" y1="57.4" x2="226.89" y2="58.62" stroke="#66FFFF" stroke-width="1"/>
<line x1="224.69" y1="57.4" x2="229.09" y2="57.4" stroke="#66FFFF" stroke-width="1"/>
<line x1="224.69" y1="58.62" x2="229.09" y2="58.62" stroke="#66FFFF" stroke-width="1"/>
<line x1="236.36" y1="82.05" x2="236.36" y2="101.5" stroke="#FFCCFF" stroke-width="1"/>
<line x1="234.16" y1="82.05" x2="238.56" y2="82.05" stroke="#FFCCFF" stroke-width="1"/>
<line x1="234.16" y1="101.5" x2="238.56" y2="101.5" stroke="#FFCCFF" stroke-width="1"/>
<line x1="236.36" y1="119.2" x2="236.36" y2="127.23" stroke="#FFCCFF" stroke-width="1"/>
<line x1="234.16" y1="119.2" x2="238.56" y2="119.2" stroke="#FFCCFF" stroke-width="1"/>
<line x1="234.16" y1="127.23" x2="238.56" y2="127.23" stroke="#FFCCFF" stroke-width="1"/>
<line x1="236.36" y1="72.8" x2="236.36" y2="88.74" stroke="#CCCCFF" stroke-width="1"/>
<line x1="234.16" y1="72.8" x2="238.56" y2="72.8" stroke="#CCCCFF" stroke-width="1"/>
<line x1="234.16" y1="88.74" x2="238.56" y2="88.74" stroke="#CCCCFF" stroke-width="1"/>
<line x1="236.36" y1="84.7" x2="236.36" y2="90.18" stroke="#66FFFF" stroke-width="1"/>
<line x1="234.16" y1="84.7" x2="238.56" y2="84.7" stroke="#66FFFF" stroke-width="1"/>
<line x1="234.16" y1="90.18" x2="238.56" y2="90.18" stroke="#66FFFF" stroke-width="1"/>
<line x1="236.36" y1="48.5" x2="236.36" y2="56.53" stroke="#CCCCFF" stroke-width="1"/>
<line x1="234.16" y1="48.5" x2="238.56" y2="48.5" stroke="#CCCCFF" stroke-width="1"/>
<line x1="234.16" y1="56.53" x2="238.56" y2="56.53" stroke="#CCCCFF" stroke-width="1"/>
<line x1="236.36" y1="57.4" x2="236.36" y2="58.62" stroke="#66FFFF" stroke-width="1"/>
<line x1="234.16" y1="57.4" x2="238.56" y2="57.4" stroke="#66FFFF" stroke-width="1"/>
<line x1="234.16" y1="58.62" x2="238.56" y2="58.62" stroke="#66FFFF" stroke-width="1"/>
<line x1="245.82" y1="82.05" x2="245.82" y2="101.5" stroke="#FFCCFF" stroke-width="1"/>
<line x1="243.62" y1="82.05" x2="248.02" y2="82.05" stroke="#FFCCFF" stroke-width="1"/>
<line x1="243.62" y1="101.5" x2="248.02" y2="101.5" stroke="#FFCCFF" stroke-width="1"/>
<line x1="245.82" y1="117.2" x2="245.82" y2="125.23" stroke="#FFCCFF" stroke-width="1"/>
<line x1="243.62" y1="117.2" x2="248.02" y2="117.2" stroke="#FFCCFF" stroke-width="1"/>
<line x1="243.62" y1="125.23" x2="248.02" y2="125.23" stroke="#FFCCFF" stroke-width="1"/>
<line x1="245.82" y1="72.7" x2="245.82" y2="86.82" stroke="#CCCCFF" stroke-width="1"/>
<line x1="243.62" y1="72.7" x2="248.02" y2="72.7" stroke="#CCCCFF" stroke-width="1"/>
<line x1="243.62" y1="86.82" x2="248.02" y2="86.82" stroke="#CCCCFF" stroke-width="1"/>
<line x1="245.82" y1="83.9" x2="245.82" y2="89.38" stroke="#66FFFF" stroke-width="1"/>
<line x1="243.62" y1="83.9" x2="248.02" y2="83.9" stroke="#66FFFF" stroke-width="1"/>
<line x1="243.62" y1="89.38" x2="248.02" y2="89.38" stroke="#66FFFF" stroke-width="1"/>
<line x1="245.82" y1="48" x2="245.82" y2="56.03" stroke="#CCCCFF" stroke-width="1"/>
<line x1="243.62" y1="48" x2="248.02" y2="48" stroke="#CCCCFF" stroke-width="1"/>
<line x1="243.62" y1="56.03" x2="248.02" y2="56.03" stroke="#CCCCFF" stroke-width="1"/>
<line x1="245.82" y1="57" x2="245.82" y2="58.22" stroke="#66FFFF" stroke-width="1"/>
<line x1="243.62" y1="57" x2="248.02" y2="57" stroke="#66FFFF" stroke-width="1"/>
<line x1="243.62" y1="58.22" x2="248.02" y2="58.22" stroke="#66FFFF" stroke-width="1"/>
<line x1="255.29" y1="81.68" x2="255.29" y2="101" stroke="#FFCCFF" stroke-width="1"/>
<line x1="253.09" y1="81.68" x2="257.49" y2="81.68" stroke="#FFCCFF" stroke-width="1"/>
<line x1="253.09" y1="101" x2="257.49" y2="101" stroke="#FFCCFF" stroke-width="1"/>
<line x1="255.29" y1="119.1" x2="255.29" y2="125.83" stroke="#FFCCFF" stroke-width="1"/>
<line x1="253.09" y1="119.1" x2="257.49" y2="119.1" stroke="#FFCCFF" stroke-width="1"/>
<line x1="253.09" y1="125.83" x2="257.49" y2="125.83" stroke="#FFCCFF" stroke-width="1"/>
<line x1="255.29" y1="71.5" x2="255.29" y2="85.62" stroke="#CCCCFF" stroke-width="1"/>
<line x1="253.09" y1="71.5" x2="257.49" y2="71.5" stroke="#CCCCFF" stroke-width="1"/>
<line x1="253.09" y1="85.62" x2="257.49" y2="85.62" stroke="#CCCCFF" stroke-width="1"/>
<line x1="255.29" y1="84.1" x2="255.29" y2="89.58" stroke="#66FFFF" stroke-width="1"/>
<line x1="253.09" y1="84.1" x2="257.49" y2="84.1" stroke="#66FFFF" stroke-width="1"/>
<line x1="253.09" y1="89.58" x2="257.49" y2="89.58" stroke="#66FFFF" stroke-width="1"/>
<line x1="255.29" y1="47.7" x2="255.29" y2="55.73" stroke="#CCCCFF" stroke-width="1"/>
<line x1="253.09" y1="47.7" x2="257.49" y2="47.7" stroke="#CCCCFF" stroke-width="1"/>
<line x1="253.09" y1="55.73" x2="257.49" y2="55.73" stroke="#CCCCFF" stroke-width="1"/>
<line x1="255.29" y1="56.7" x2="255.29" y2="57.92" stroke="#66FFFF" stroke-width="1"/>
<line x1="253.09" y1="56.7" x2="257.49" y2="56.7" stroke="#66FFFF" stroke-width="1"/>
<line x1="253.09" y1="57.92" x2="257.49" y2="57.92" stroke="#66FFFF" stroke-width="1"/>
<line x1="264.75" y1="81.7" x2="264.75" y2="100.5" stroke="#FFCCFF" stroke-width="1"/>
<line x1="262.55" y1="81.7" x2="266.95" y2="81.7" stroke="#FFCCFF" stroke-width="1"/>
<line x1="262.55" y1="100.5" x2="266.95" y2="100.5" stroke="#FFCCFF" stroke-width="1"/>
<line x1="264.75" y1="118.3" x2="264.75" y2="125.03" stroke="#FFCCFF" stroke-width="1"/>
<line x1="262.55" y1="118.3" x2="266.95" y2="118.3" stroke="#FFCCFF" stroke-width="1"/>
<line x1="262.55" y1="125.03" x2="266.95" y2="125.03" stroke="#FFCCFF" stroke-width="1"/>
<line x1="264.75" y1="70.8" x2="264.75" y2="83.24" stroke="#CCCCFF" stroke-width="1"/>
<line x1="262.55" y1="70.8" x2="266.95" y2="70.8" stroke="#CCCCFF" stroke-width="1"/>
<line x1="262.55" y1="83.24" x2="266.95" y2="83.24" stroke="#CCCCFF" stroke-width="1"/>
<line x1="264.75" y1="81.8" x2="264.75" y2="87.28" stroke="#66FFFF" stroke-width="1"/>
<line x1="262.55" y1="81.8" x2="266.95" y2="81.8" stroke="#66FFFF" stroke-width="1"/>
<line x1="262.55" y1="87.28" x2="266.95" y2="87.28" stroke="#66FFFF" stroke-width="1"/>
<line x1="264.75" y1="46.8" x2="264.75" y2="54.83" stroke="#CCCCFF" stroke-width="1"/>
<line x1="262.55" y1="46.8" x2="266.95" y2="46.8" stroke="#CCCCFF" stroke-width="1"/>
<line x1="262.55" y1="54.83" x2="266.95" y2="54.83" stroke="#CCCCFF" stroke-width="1"/>
<line x1="264.75" y1="56.6" x2="264.75" y2="57.82" stroke="#66FFFF" stroke-width="1"/>
<line x1="262.55" y1="56.6" x2="266.95" y2="56.6" stroke="#66FFFF" stroke-width="1"/>
<line x1="262.55" y1="57.82" x2="266.95" y2="57.82" stroke="#66FFFF" stroke-width="1"/>
<line x1="274.21" y1="81.05" x2="274.21" y2="100.5" stroke="#FFCCFF" stroke-width="1"/>
<line x1="272.01" y1="81.05" x2="276.41" y2="81.05" stroke="#FFCCFF" stroke-width="1"/>
<line x1="272.01" y1="100.5" x2="276.41" y2="100.5" stroke="#FFCCFF" stroke-width="1"/>
<line x1="274.21" y1="116.7" x2="274.21" y2="123.43" stroke="#FFCCFF" stroke-width="1"/>
<line x1="272.01" y1="116.7" x2="276.41" y2="116.7" stroke="#FFCCFF" stroke-width="1"/>
<line x1="272.01" y1="123.43" x2="276.41" y2="123.43" stroke="#FFCCFF" stroke-width="1"/>
<line x1="274.21" y1="70.7" x2="274.21" y2="81.57" stroke="#CCCCFF" stroke-width="1"/>
<line x1="272.01" y1="70.7" x2="276.41" y2="70.7" stroke="#CCCCFF" stroke-width="1"/>
<line x1="272.01" y1="81.57" x2="276.41" y2="81.57" stroke="#CCCCFF" stroke-width="1"/>
<line x1="274.21" y1="81.2" x2="274.21" y2="86.68" stroke="#66FFFF" stroke-width="1"/>
<line x1="272.01" y1="81.2" x2="276.41" y2="81.2" stroke="#66FFFF" stroke-width="1"/>
<line x1="272.01" y1="86.68" x2="276.41" y2="86.68" stroke="#66FFFF" stroke-width="1"/>
<line x1="274.21" y1="45" x2="274.21" y2="53.03" stroke="#CCCCFF" stroke-width="1"/>
<line x1="272.01" y1="45" x2="276.41" y2="45" stroke="#CCCCFF" stroke-width="1"/>
<line x1="272.01" y1="53.03" x2="276.41" y2="53.03" stroke="#CCCCFF" stroke-width="1"/>
<line x1="274.21" y1="55.8" x2="274.21" y2="57.02" stroke="#66FFFF" stroke-width="1"/>
<line x1="272.01" y1="55.8" x2="276.41" y2="55.8" stroke="#66FFFF" stroke-width="1"/>
<line x1="272.01" y1="57.02" x2="276.41" y2="57.02" stroke="#66FFFF" stroke-width="1"/>
<line x1="283.68" y1="80.81" x2="283.68" y2="100" stroke="#FFCCFF" stroke-width="1"/>
<line x1="281.48" y1="80.81" x2="285.88" y2="80.81" stroke="#FFCCFF" stroke-width="1"/>
<line x1="281.48" y1="100" x2="285.88" y2="100" stroke="#FFCCFF" stroke-width="1"/>
<line x1="283.68" y1="116.7" x2="283.68" y2="123.43" stroke="#FFCCFF" stroke-width="1"/>
<line x1="281.48" y1="116.7" x2="285.88" y2="116.7" stroke="#FFCCFF" stroke-width="1"/>
<line x1="281.48" y1="123.43" x2="285.88" y2="123.43" stroke="#FFCCFF" stroke-width="1"/>
<line x1="283.68" y1="65.8" x2="283.68" y2="76.67" stroke="#CCCCFF" stroke-width="1"/>
<line x1="281.48" y1="65.8" x2="285.88" y2="65.8" stroke="#CCCCFF" stroke-width="1"/>
<line x1="281.48" y1="76.67" x2="285.88" y2="76.67" stroke="#CCCCFF" stroke-width="1"/>
<line x1="283.68" y1="79.7" x2="283.68" y2="85.18" stroke="#66FFFF" stroke-width="1"/>
<line x1="281.48" y1="79.7" x2="285.88" y2="79.7" stroke="#66FFFF" stroke-width="1"/>
<line x1="281.48" y1="85.18" x2="285.88" y2="85.18" stroke="#66FFFF" stroke-width="1"/>
<line x1="283.68" y1="44.2" x2="283.68" y2="52.23" stroke="#CCCCFF" stroke-width="1"/>
<line x1="281.48" y1="44.2" x2="285.88" y2="44.2" stroke="#CCCCFF" stroke-width="1"/>
<line x1="281.48" y1="52.23" x2="285.88" y2="52.23" stroke="#CCCCFF" stroke-width="1"/>
<line x1="283.68" y1="55.8" x2="283.68" y2="57.02" stroke="#66FFFF" stroke-width="1"/>
<line x1="281.48" y1="55.8" x2="285.88" y2="55.8" stroke="#66FFFF" stroke-width="1"/>
<line x1="281.48" y1="57.02" x2="285.88" y2="57.02" stroke="#66FFFF" stroke-width="1"/>
<line x1="293.14" y1="80.81" x2="293.14" y2="100" stroke="#FFCCFF" stroke-width="1"/>
<line x1="290.94" y1="80.81" x2="295.34" y2="80.81" stroke="#FFCCFF" stroke-width="1"/>
<line x1="290.94" y1="100" x2="295.34" y2="100" stroke="#FFCCFF" stroke-width="1"/>
<line x1="293.14" y1="116.1" x2="293.14" y2="122.83" stroke="#FFCCFF" stroke-width="1"/>
<line x1="290.94" y1="116.1" x2="295.34" y2="116.1" stroke="#FFCCFF" stroke-width="1"/>
<line x1="290.94" y1="122.83" x2="295.34" y2="122.83" stroke="#FFCCFF" stroke-width="1"/>
<line x1="293.14" y1="67.3" x2="293.14" y2="78.17" stroke="#CCCCFF" stroke-width="1"/>
<line x1="290.94" y1="67.3" x2="295.34" y2="67.3" stroke="#CCCCFF" stroke-width="1"/>
<line x1="290.94" y1="78.17" x2="295.34" y2="78.17" stroke="#CCCCFF" stroke-width="1"/>
<line x1="293.14" y1="77.3" x2="293.14" y2="82.78" stroke="#66FFFF" stroke-width="1"/>
<line x1="290.94" y1="77.3" x2="295.34" y2="77.3" stroke="#66FFFF" stroke-width="1"/>
<line x1="290.94" y1="82.78" x2="295.34" y2="82.78" stroke="#66FFFF" stroke-width="1"/>
<line x1="293.14" y1="41.7" x2="293.14" y2="48.43" stroke="#CCCCFF" stroke-width="1"/>
<line x1="290.94" y1="41.7" x2="295.34" y2="41.7" stroke="#CCCCFF" stroke-width="1"/>
<line x1="290.94" y1="48.43" x2="295.34" y2="48.43" stroke="#CCCCFF" stroke-width="1"/>
<line x1="293.14" y1="55.8" x2="293.14" y2="57.02" stroke="#66FFFF" stroke-width="1"/>
<line x1="290.94" y1="55.8" x2="295.34" y2="55.8" stroke="#66FFFF" stroke-width="1"/>
<line x1="290.94" y1="57.02" x2="295.34" y2="57.02" stroke="#66FFFF" stroke-width="1"/>
<line x1="302.61" y1="80.81" x2="302.61" y2="100" stroke="#FFCCFF" stroke-width="1"/>
<line x1="300.41" y1="80.81" x2="304.81" y2="80.81" stroke="#FFCCFF" stroke-width="1"/>
<line x1="300.41" y1="100" x2="304.81" y2="100" stroke="#FFCCFF" stroke-width="1"/>
<line x1="302.61" y1="110.4" x2="302.61" y2="117.13" stroke="#FFCCFF" stroke-width="1"/>
<line x1="300.41" y1="110.4" x2="304.81" y2="110.4" stroke="#FFCCFF" stroke-width="1"/>
<line x1="300.41" y1="117.13" x2="304.81" y2="117.13" stroke="#FFCCFF" stroke-width="1"/>
<line x1="302.61" y1="63.5" x2="302.61" y2="74.37" stroke="#CCCCFF" stroke-width="1"/>
<line x1="300.41" y1="63.5" x2="304.81" y2="63.5" stroke="#CCCCFF" stroke-width="1"/>
<line x1="300.41" y1="74.37" x2="304.81" y2="74.37" stroke="#CCCCFF" stroke-width="1"/>
<line x1="302.61" y1="74.6" x2="302.61" y2="80.08" stroke="#66FFFF" stroke-width="1"/>
<line x1="300.41" y1="74.6" x2="304.81" y2="74.6" stroke="#66FFFF" stroke-width="1"/>
<line x1="300.41" y1="80.08" x2="304.81" y2="80.08" stroke="#66FFFF" stroke-width="1"/>
<line x1="302.61" y1="40.1" x2="302.61" y2="48.13" stroke="#CCCCFF" stroke-width="1"/>
<line x1="300.41" y1="40.1" x2="304.81" y2="40.1" stroke="#CCCCFF" stroke-width="1"/>
<line x1="300.41" y1="48.13" x2="304.81" y2="48.13" stroke="#CCCCFF" stroke-width="1"/>
<line x1="302.61" y1="54.7" x2="302.61" y2="59" stroke="#66FFFF" stroke-width="1"/>
<line x1="300.41" y1="54.7" x2="304.81" y2="54.7" stroke="#66FFFF" stroke-width="1"/>
<line x1="300.41" y1="59" x2="304.81" y2="59" stroke="#66FFFF" stroke-width="1"/>
<line x1="312.07" y1="80.21" x2="312.07" y2="103.9" stroke="#FFCCFF" stroke-width="1"/>
<line x1="309.87" y1="80.21" x2="314.27" y2="80.21" stroke="#FFCCFF" stroke-width="1"/>
<line x1="309.87" y1="103.9" x2="314.27" y2="103.9" stroke="#FFCCFF" stroke-width="1"/>
<line x1="312.07" y1="110.4" x2="312.07" y2="117.13" stroke="#FFCCFF" stroke-width="1"/>
<line x1="309.87" y1="110.4" x2="314.27" y2="110.4" stroke="#FFCCFF" stroke-width="1"/>
<line x1="309.87" y1="117.13" x2="314.27" y2="117.13" stroke="#FFCCFF" stroke-width="1"/>
<line x1="312.07" y1="62.5" x2="312.07" y2="73.37" stroke="#CCCCFF" stroke-width="1"/>
<line x1="309.87" y1="62.5" x2="314.27" y2="62.5" stroke="#CCCCFF" stroke-width="1"/>
<line x1="309.87" y1="73.37" x2="314.27" y2="73.37" stroke="#CCCCFF" stroke-width="1"/>
<line x1="312.07" y1="73.6" x2="312.07" y2="79.08" stroke="#66FFFF" stroke-width="1"/>
<line x1="309.87" y1="73.6" x2="314.27" y2="73.6" stroke="#66FFFF" stroke-width="1"/>
<line x1="309.87" y1="79.08" x2="314.27" y2="79.08" stroke="#66FFFF" stroke-width="1"/>
<line x1="312.07" y1="34.5" x2="312.07" y2="45.68" stroke="#CCCCFF" stroke-width="1"/>
<line x1="309.87" y1="34.5" x2="314.27" y2="34.5" stroke="#CCCCFF" stroke-width="1"/>
<line x1="309.87" y1="45.68" x2="314.27" y2="45.68" stroke="#CCCCFF" stroke-width="1"/>
<line x1="312.07" y1="56.8" x2="312.07" y2="61.57" stroke="#66FFFF" stroke-width="1"/>
<line x1="309.87" y1="56.8" x2="314.27" y2="56.8" stroke="#66FFFF" stroke-width="1"/>
<line x1="309.87" y1="61.57" x2="314.27" y2="61.57" stroke="#66FFFF" stroke-width="1"/>
<line x1="321.54" y1="81.23" x2="321.54" y2="115" stroke="#FFCCFF" stroke-width="1"/>
<line x1="319.34" y1="81.23" x2="323.74" y2="81.23" stroke="#FFCCFF" stroke-width="1"/>
<line x1="319.34" y1="115" x2="323.74" y2="115" stroke="#FFCCFF" stroke-width="1"/>
<line x1="321.54" y1="108.8" x2="321.54" y2="115.53" stroke="#FFCCFF" stroke-width="1"/>
<line x1="319.34" y1="108.8" x2="323.74" y2="108.8" stroke="#FFCCFF" stroke-width="1"/>
<line x1="319.34" y1="115.53" x2="323.74" y2="115.53" stroke="#FFCCFF" stroke-width="1"/>
<line x1="321.54" y1="56" x2="321.54" y2="71.94" stroke="#CCCCFF" stroke-width="1"/>
<line x1="319.34" y1="56" x2="323.74" y2="56" stroke="#CCCCFF" stroke-width="1"/>
<line x1="319.34" y1="71.94" x2="323.74" y2="71.94" stroke="#CCCCFF" stroke-width="1"/>
<line x1="321.54" y1="71.5" x2="321.54" y2="78.23" stroke="#66FFFF" stroke-width="1"/>
<line x1="319.34" y1="71.5" x2="323.74" y2="71.5" stroke="#66FFFF" stroke-width="1"/>
<line x1="319.34" y1="78.23" x2="323.74" y2="78.23" stroke="#66FFFF" stroke-width="1"/>
<line x1="321.54" y1="27" x2="321.54" y2="47.62" stroke="#CCCCFF" stroke-width="1"/>
<line x1="319.34" y1="27" x2="323.74" y2="27" stroke="#CCCCFF" stroke-width="1"/>
<line x1="319.34" y1="47.62" x2="323.74" y2="47.62" stroke="#CCCCFF" stroke-width="1"/>
<line x1="321.54" y1="62.8" x2="321.54" y2="72.21" stroke="#66FFFF" stroke-width="1"/>
<line x1="319.34" y1="62.8" x2="323.74" y2="62.8" stroke="#66FFFF" stroke-width="1"/>
<line x1="319.34" y1="72.21" x2="323.74" y2="72.21" stroke="#66FFFF" stroke-width="1"/>
<line x1="331" y1="88.82" x2="331" y2="126" stroke="#FFCCFF" stroke-width="1"/>
<line x1="328.8" y1="88.82" x2="333.2" y2="88.82" stroke="#FFCCFF" stroke-width="1"/>
<line x1="328.8" y1="126" x2="333.2" y2="126" stroke="#FFCCFF" stroke-width="1"/>
<line x1="331" y1="110.4" x2="331" y2="117.13" stroke="#FFCCFF" stroke-width="1"/>
<line x1="328.8" y1="110.4" x2="333.2" y2="110.4" stroke="#FFCCFF" stroke-width="1"/>
<line x1="328.8" y1="117.13" x2="333.2" y2="117.13" stroke="#FFCCFF" stroke-width="1"/>
<line x1="331" y1="59.4" x2="331" y2="70.27" stroke="#CCCCFF" stroke-width="1"/>
<line x1="328.8" y1="59.4" x2="333.2" y2="59.4" stroke="#CCCCFF" stroke-width="1"/>
<line x1="328.8" y1="70.27" x2="333.2" y2="70.27" stroke="#CCCCFF" stroke-width="1"/>
<line x1="331" y1="67.3" x2="331" y2="79.74" stroke="#66FFFF" stroke-width="1"/>
<line x1="328.8" y1="67.3" x2="333.2" y2="67.3" stroke="#66FFFF" stroke-width="1"/>
<line x1="328.8" y1="79.74" x2="333.2" y2="79.74" stroke="#66FFFF" stroke-width="1"/>
<line x1="331" y1="18.2" x2="331" y2="49.51" stroke="#CCCCFF" stroke-width="1"/>
<line x1="328.8" y1="18.2" x2="333.2" y2="18.2" stroke="#CCCCFF" stroke-width="1"/>
<line x1="328.8" y1="49.51" x2="333.2" y2="49.51" stroke="#CCCCFF" stroke-width="1"/>
<line x1="331" y1="71.7" x2="331" y2="72.92" stroke="#66FFFF" stroke-width="1"/>
<line x1="328.8" y1="71.7" x2="333.2" y2="71.7" stroke="#66FFFF" stroke-width="1"/>
<line x1="328.8" y1="72.92" x2="333.2" y2="72.92" stroke="#66FFFF" stroke-width="1"/>
<polyline points="66,95.5 75.46,92.1 84.93,92.9 94.39,93.3 103.86,93.6 113.32,93.3 122.79,93.3 132.25,92.9 141.71,92.9 151.18,92.4 160.64,92.4 170.11,92.1 179.57,92.1 189.04,91.8 198.5,91 207.96,89.7 217.43,89.4 226.89,88.9 236.36,88.9 245.82,88.9 255.29,88.5 264.75,88.4 274.21,87.9 283.68,87.6 293.14,87.6 302.61,87.6 312.07,87.9 321.54,90.3 331,98.2" fill="none" stroke="#FFCCFF" stroke-width="1.8" stroke-linejoin="round"/>
<circle cx="66" cy="95.5" r="2.7" fill="#FFCCFF"/>
<circle cx="75.46" cy="92.1" r="2.7" fill="#FFCCFF"/>
<circle cx="84.93" cy="92.9" r="2.7" fill="#FFCCFF"/>
<circle cx="94.39" cy="93.3" r="2.7" fill="#FFCCFF"/>
<circle cx="103.86" cy="93.6" r="2.7" fill="#FFCCFF"/>
<circle cx="113.32" cy="93.3" r="2.7" fill="#FFCCFF"/>
<circle cx="122.79" cy="93.3" r="2.7" fill="#FFCCFF"/>
<circle cx="132.25" cy="92.9" r="2.7" fill="#FFCCFF"/>
<circle cx="141.71" cy="92.9" r="2.7" fill="#FFCCFF"/>
<circle cx="151.18" cy="92.4" r="2.7" fill="#FFCCFF"/>
<circle cx="160.64" cy="92.4" r="2.7" fill="#FFCCFF"/>
<circle cx="170.11" cy="92.1" r="2.7" fill="#FFCCFF"/>
<circle cx="179.57" cy="92.1" r="2.7" fill="#FFCCFF"/>
<circle cx="189.04" cy="91.8" r="2.7" fill="#FFCCFF"/>
<circle cx="198.5" cy="91" r="2.7" fill="#FFCCFF"/>
<circle cx="207.96" cy="89.7" r="2.7" fill="#FFCCFF"/>
<circle cx="217.43" cy="89.4" r="2.7" fill="#FFCCFF"/>
<circle cx="226.89" cy="88.9" r="2.7" fill="#FFCCFF"/>
<circle cx="236.36" cy="88.9" r="2.7" fill="#FFCCFF"/>
<circle cx="245.82" cy="88.9" r="2.7" fill="#FFCCFF"/>
<circle cx="255.29" cy="88.5" r="2.7" fill="#FFCCFF"/>
<circle cx="264.75" cy="88.4" r="2.7" fill="#FFCCFF"/>
<circle cx="274.21" cy="87.9" r="2.7" fill="#FFCCFF"/>
<circle cx="283.68" cy="87.6" r="2.7" fill="#FFCCFF"/>
<circle cx="293.14" cy="87.6" r="2.7" fill="#FFCCFF"/>
<circle cx="302.61" cy="87.6" r="2.7" fill="#FFCCFF"/>
<circle cx="312.07" cy="87.9" r="2.7" fill="#FFCCFF"/>
<circle cx="321.54" cy="90.3" r="2.7" fill="#FFCCFF"/>
<circle cx="331" cy="98.2" r="2.7" fill="#FFCCFF"/>
<polyline points="66,122.1 75.46,120.6 84.93,119.7 94.39,122.1 103.86,122.7 113.32,120.2 122.79,119.6 132.25,129.8 141.71,133.5 151.18,122.5 160.64,125.4 170.11,119.6 179.57,126.2 189.04,125.1 198.5,124.7 207.96,130.5 217.43,127.6 226.89,119.1 236.36,122.7 245.82,120.7 255.29,122.1 264.75,121.3 274.21,119.7 283.68,119.7 293.14,119.1 302.61,113.4 312.07,113.4 321.54,111.8 331,113.4" fill="none" stroke="#FFCCFF" stroke-width="1.8" stroke-linejoin="round"/>
<polygon points="66,118.75 63,124.15 69,124.15" fill="#FFCCFF"/>
<polygon points="75.46,117.25 72.46,122.65 78.46,122.65" fill="#FFCCFF"/>
<polygon points="84.93,116.35 81.93,121.75 87.93,121.75" fill="#FFCCFF"/>
<polygon points="94.39,118.75 91.39,124.15 97.39,124.15" fill="#FFCCFF"/>
<polygon points="103.86,119.35 100.86,124.75 106.86,124.75" fill="#FFCCFF"/>
<polygon points="113.32,116.85 110.32,122.25 116.32,122.25" fill="#FFCCFF"/>
<polygon points="122.79,116.25 119.79,121.65 125.79,121.65" fill="#FFCCFF"/>
<polygon points="132.25,126.45 129.25,131.85 135.25,131.85" fill="#FFCCFF"/>
<polygon points="141.71,130.15 138.71,135.55 144.71,135.55" fill="#FFCCFF"/>
<polygon points="151.18,119.15 148.18,124.55 154.18,124.55" fill="#FFCCFF"/>
<polygon points="160.64,122.05 157.64,127.45 163.64,127.45" fill="#FFCCFF"/>
<polygon points="170.11,116.25 167.11,121.65 173.11,121.65" fill="#FFCCFF"/>
<polygon points="179.57,122.85 176.57,128.25 182.57,128.25" fill="#FFCCFF"/>
<polygon points="189.04,121.75 186.04,127.15 192.04,127.15" fill="#FFCCFF"/>
<polygon points="198.5,121.35 195.5,126.75 201.5,126.75" fill="#FFCCFF"/>
<polygon points="207.96,127.15 204.96,132.55 210.96,132.55" fill="#FFCCFF"/>
<polygon points="217.43,124.25 214.43,129.65 220.43,129.65" fill="#FFCCFF"/>
<polygon points="226.89,115.75 223.89,121.15 229.89,121.15" fill="#FFCCFF"/>
<polygon points="236.36,119.35 233.36,124.75 239.36,124.75" fill="#FFCCFF"/>
<polygon points="245.82,117.35 242.82,122.75 248.82,122.75" fill="#FFCCFF"/>
<polygon points="255.29,118.75 252.29,124.15 258.29,124.15" fill="#FFCCFF"/>
<polygon points="264.75,117.95 261.75,123.35 267.75,123.35" fill="#FFCCFF"/>
<polygon points="274.21,116.35 271.21,121.75 277.21,121.75" fill="#FFCCFF"/>
<polygon points="283.68,116.35 280.68,121.75 286.68,121.75" fill="#FFCCFF"/>
<polygon points="293.14,115.75 290.14,121.15 296.14,121.15" fill="#FFCCFF"/>
<polygon points="302.61,110.05 299.61,115.45 305.61,115.45" fill="#FFCCFF"/>
<polygon points="312.07,110.05 309.07,115.45 315.07,115.45" fill="#FFCCFF"/>
<polygon points="321.54,108.45 318.54,113.85 324.54,113.85" fill="#FFCCFF"/>
<polygon points="331,110.05 328,115.45 334,115.45" fill="#FFCCFF"/>
<polyline points="66,61.8 75.46,60.6 84.93,62.8 94.39,60.9 103.86,62.3 113.32,62 122.79,62.4 132.25,62.2 141.71,61.7 151.18,61.7 160.64,60.9 170.11,60.9 179.57,60.9 189.04,60 198.5,59.5 207.96,58.8 217.43,58.8 226.89,58 236.36,58 245.82,57.6 255.29,57.3 264.75,57.2 274.21,56.4 283.68,56.4 293.14,56.4 302.61,56.7 312.07,59 321.54,66.8 331,72.3" fill="none" stroke="#66FFFF" stroke-width="1.8" stroke-linejoin="round"/>
<circle cx="66" cy="61.8" r="2.7" fill="#66FFFF"/>
<circle cx="75.46" cy="60.6" r="2.7" fill="#66FFFF"/>
<circle cx="84.93" cy="62.8" r="2.7" fill="#66FFFF"/>
<circle cx="94.39" cy="60.9" r="2.7" fill="#66FFFF"/>
<circle cx="103.86" cy="62.3" r="2.7" fill="#66FFFF"/>
<circle cx="113.32" cy="62" r="2.7" fill="#66FFFF"/>
<circle cx="122.79" cy="62.4" r="2.7" fill="#66FFFF"/>
<circle cx="132.25" cy="62.2" r="2.7" fill="#66FFFF"/>
<circle cx="141.71" cy="61.7" r="2.7" fill="#66FFFF"/>
<circle cx="151.18" cy="61.7" r="2.7" fill="#66FFFF"/>
<circle cx="160.64" cy="60.9" r="2.7" fill="#66FFFF"/>
<circle cx="170.11" cy="60.9" r="2.7" fill="#66FFFF"/>
<circle cx="179.57" cy="60.9" r="2.7" fill="#66FFFF"/>
<circle cx="189.04" cy="60" r="2.7" fill="#66FFFF"/>
<circle cx="198.5" cy="59.5" r="2.7" fill="#66FFFF"/>
<circle cx="207.96" cy="58.8" r="2.7" fill="#66FFFF"/>
<circle cx="217.43" cy="58.8" r="2.7" fill="#66FFFF"/>
<circle cx="226.89" cy="58" r="2.7" fill="#66FFFF"/>
<circle cx="236.36" cy="58" r="2.7" fill="#66FFFF"/>
<circle cx="245.82" cy="57.6" r="2.7" fill="#66FFFF"/>
<circle cx="255.29" cy="57.3" r="2.7" fill="#66FFFF"/>
<circle cx="264.75" cy="57.2" r="2.7" fill="#66FFFF"/>
<circle cx="274.21" cy="56.4" r="2.7" fill="#66FFFF"/>
<circle cx="283.68" cy="56.4" r="2.7" fill="#66FFFF"/>
<circle cx="293.14" cy="56.4" r="2.7" fill="#66FFFF"/>
<circle cx="302.61" cy="56.7" r="2.7" fill="#66FFFF"/>
<circle cx="312.07" cy="59" r="2.7" fill="#66FFFF"/>
<circle cx="321.54" cy="66.8" r="2.7" fill="#66FFFF"/>
<circle cx="331" cy="72.3" r="2.7" fill="#66FFFF"/>
<polyline points="66,86.8 75.46,86.4 84.93,89.4 94.39,90.3 103.86,90.3 113.32,90.6 122.79,90.9 132.25,89.4 141.71,92.4 151.18,92.4 160.64,92.9 170.11,99.4 179.57,91.8 189.04,92.1 198.5,91 207.96,97.3 217.43,89.2 226.89,88.6 236.36,87.2 245.82,86.4 255.29,86.6 264.75,84.3 274.21,83.7 283.68,82.2 293.14,79.8 302.61,77.1 312.07,76.1 321.54,74.5 331,72.3" fill="none" stroke="#66FFFF" stroke-width="1.8" stroke-linejoin="round"/>
<polygon points="66,83.45 63,88.85 69,88.85" fill="#66FFFF"/>
<polygon points="75.46,83.05 72.46,88.45 78.46,88.45" fill="#66FFFF"/>
<polygon points="84.93,86.05 81.93,91.45 87.93,91.45" fill="#66FFFF"/>
<polygon points="94.39,86.95 91.39,92.35 97.39,92.35" fill="#66FFFF"/>
<polygon points="103.86,86.95 100.86,92.35 106.86,92.35" fill="#66FFFF"/>
<polygon points="113.32,87.25 110.32,92.65 116.32,92.65" fill="#66FFFF"/>
<polygon points="122.79,87.55 119.79,92.95 125.79,92.95" fill="#66FFFF"/>
<polygon points="132.25,86.05 129.25,91.45 135.25,91.45" fill="#66FFFF"/>
<polygon points="141.71,89.05 138.71,94.45 144.71,94.45" fill="#66FFFF"/>
<polygon points="151.18,89.05 148.18,94.45 154.18,94.45" fill="#66FFFF"/>
<polygon points="160.64,89.55 157.64,94.95 163.64,94.95" fill="#66FFFF"/>
<polygon points="170.11,96.05 167.11,101.45 173.11,101.45" fill="#66FFFF"/>
<polygon points="179.57,88.45 176.57,93.85 182.57,93.85" fill="#66FFFF"/>
<polygon points="189.04,88.75 186.04,94.15 192.04,94.15" fill="#66FFFF"/>
<polygon points="198.5,87.65 195.5,93.05 201.5,93.05" fill="#66FFFF"/>
<polygon points="207.96,93.95 204.96,99.35 210.96,99.35" fill="#66FFFF"/>
<polygon points="217.43,85.85 214.43,91.25 220.43,91.25" fill="#66FFFF"/>
<polygon points="226.89,85.25 223.89,90.65 229.89,90.65" fill="#66FFFF"/>
<polygon points="236.36,83.85 233.36,89.25 239.36,89.25" fill="#66FFFF"/>
<polygon points="245.82,83.05 242.82,88.45 248.82,88.45" fill="#66FFFF"/>
<polygon points="255.29,83.25 252.29,88.65 258.29,88.65" fill="#66FFFF"/>
<polygon points="264.75,80.95 261.75,86.35 267.75,86.35" fill="#66FFFF"/>
<polygon points="274.21,80.35 271.21,85.75 277.21,85.75" fill="#66FFFF"/>
<polygon points="283.68,78.85 280.68,84.25 286.68,84.25" fill="#66FFFF"/>
<polygon points="293.14,76.45 290.14,81.85 296.14,81.85" fill="#66FFFF"/>
<polygon points="302.61,73.75 299.61,79.15 305.61,79.15" fill="#66FFFF"/>
<polygon points="312.07,72.75 309.07,78.15 315.07,78.15" fill="#66FFFF"/>
<polygon points="321.54,71.15 318.54,76.55 324.54,76.55" fill="#66FFFF"/>
<polygon points="331,68.95 328,74.35 334,74.35" fill="#66FFFF"/>
<polyline points="66,49.6 75.46,50.7 84.93,52.2 94.39,54.7 103.86,54.4 113.32,54.7 122.79,55.2 132.25,55.7 141.71,55.6 151.18,55.2 160.64,53.9 170.11,54.7 179.57,54.4 189.04,54.7 198.5,52.8 207.96,53 217.43,52.4 226.89,52 236.36,52 245.82,51.5 255.29,51.2 264.75,50.3 274.21,48.5 283.68,47.7 293.14,44.7 302.61,43.6 312.07,39.1 321.54,34.1 331,27" fill="none" stroke="#CCCCFF" stroke-width="1.8" stroke-linejoin="round"/>
<circle cx="66" cy="49.6" r="2.7" fill="#CCCCFF"/>
<circle cx="75.46" cy="50.7" r="2.7" fill="#CCCCFF"/>
<circle cx="84.93" cy="52.2" r="2.7" fill="#CCCCFF"/>
<circle cx="94.39" cy="54.7" r="2.7" fill="#CCCCFF"/>
<circle cx="103.86" cy="54.4" r="2.7" fill="#CCCCFF"/>
<circle cx="113.32" cy="54.7" r="2.7" fill="#CCCCFF"/>
<circle cx="122.79" cy="55.2" r="2.7" fill="#CCCCFF"/>
<circle cx="132.25" cy="55.7" r="2.7" fill="#CCCCFF"/>
<circle cx="141.71" cy="55.6" r="2.7" fill="#CCCCFF"/>
<circle cx="151.18" cy="55.2" r="2.7" fill="#CCCCFF"/>
<circle cx="160.64" cy="53.9" r="2.7" fill="#CCCCFF"/>
<circle cx="170.11" cy="54.7" r="2.7" fill="#CCCCFF"/>
<circle cx="179.57" cy="54.4" r="2.7" fill="#CCCCFF"/>
<circle cx="189.04" cy="54.7" r="2.7" fill="#CCCCFF"/>
<circle cx="198.5" cy="52.8" r="2.7" fill="#CCCCFF"/>
<circle cx="207.96" cy="53" r="2.7" fill="#CCCCFF"/>
<circle cx="217.43" cy="52.4" r="2.7" fill="#CCCCFF"/>
<circle cx="226.89" cy="52" r="2.7" fill="#CCCCFF"/>
<circle cx="236.36" cy="52" r="2.7" fill="#CCCCFF"/>
<circle cx="245.82" cy="51.5" r="2.7" fill="#CCCCFF"/>
<circle cx="255.29" cy="51.2" r="2.7" fill="#CCCCFF"/>
<circle cx="264.75" cy="50.3" r="2.7" fill="#CCCCFF"/>
<circle cx="274.21" cy="48.5" r="2.7" fill="#CCCCFF"/>
<circle cx="283.68" cy="47.7" r="2.7" fill="#CCCCFF"/>
<circle cx="293.14" cy="44.7" r="2.7" fill="#CCCCFF"/>
<circle cx="302.61" cy="43.6" r="2.7" fill="#CCCCFF"/>
<circle cx="312.07" cy="39.1" r="2.7" fill="#CCCCFF"/>
<circle cx="321.54" cy="34.1" r="2.7" fill="#CCCCFF"/>
<circle cx="331" cy="27" r="2.7" fill="#CCCCFF"/>
<polyline points="66,73 75.46,76.4 84.93,79.1 94.39,77.1 103.86,80.9 113.32,83.9 122.79,84.7 132.25,79.7 141.71,85.2 151.18,83.6 160.64,84.7 170.11,80.2 179.57,83.2 189.04,88.5 198.5,81 207.96,79.2 217.43,78.2 226.89,77 236.36,78.8 245.82,78.2 255.29,77 264.75,75.8 274.21,75.2 283.68,70.3 293.14,71.8 302.61,68 312.07,67 321.54,62 331,63.9" fill="none" stroke="#CCCCFF" stroke-width="1.8" stroke-linejoin="round"/>
<polygon points="66,69.65 63,75.05 69,75.05" fill="#CCCCFF"/>
<polygon points="75.46,73.05 72.46,78.45 78.46,78.45" fill="#CCCCFF"/>
<polygon points="84.93,75.75 81.93,81.15 87.93,81.15" fill="#CCCCFF"/>
<polygon points="94.39,73.75 91.39,79.15 97.39,79.15" fill="#CCCCFF"/>
<polygon points="103.86,77.55 100.86,82.95 106.86,82.95" fill="#CCCCFF"/>
<polygon points="113.32,80.55 110.32,85.95 116.32,85.95" fill="#CCCCFF"/>
<polygon points="122.79,81.35 119.79,86.75 125.79,86.75" fill="#CCCCFF"/>
<polygon points="132.25,76.35 129.25,81.75 135.25,81.75" fill="#CCCCFF"/>
<polygon points="141.71,81.85 138.71,87.25 144.71,87.25" fill="#CCCCFF"/>
<polygon points="151.18,80.25 148.18,85.65 154.18,85.65" fill="#CCCCFF"/>
<polygon points="160.64,81.35 157.64,86.75 163.64,86.75" fill="#CCCCFF"/>
<polygon points="170.11,76.85 167.11,82.25 173.11,82.25" fill="#CCCCFF"/>
<polygon points="179.57,79.85 176.57,85.25 182.57,85.25" fill="#CCCCFF"/>
<polygon points="189.04,85.15 186.04,90.55 192.04,90.55" fill="#CCCCFF"/>
<polygon points="198.5,77.65 195.5,83.05 201.5,83.05" fill="#CCCCFF"/>
<polygon points="207.96,75.85 204.96,81.25 210.96,81.25" fill="#CCCCFF"/>
<polygon points="217.43,74.85 214.43,80.25 220.43,80.25" fill="#CCCCFF"/>
<polygon points="226.89,73.65 223.89,79.05 229.89,79.05" fill="#CCCCFF"/>
<polygon points="236.36,75.45 233.36,80.85 239.36,80.85" fill="#CCCCFF"/>
<polygon points="245.82,74.85 242.82,80.25 248.82,80.25" fill="#CCCCFF"/>
<polygon points="255.29,73.65 252.29,79.05 258.29,79.05" fill="#CCCCFF"/>
<polygon points="264.75,72.45 261.75,77.85 267.75,77.85" fill="#CCCCFF"/>
<polygon points="274.21,71.85 271.21,77.25 277.21,77.25" fill="#CCCCFF"/>
<polygon points="283.68,66.95 280.68,72.35 286.68,72.35" fill="#CCCCFF"/>
<polygon points="293.14,68.45 290.14,73.85 296.14,73.85" fill="#CCCCFF"/>
<polygon points="302.61,64.65 299.61,70.05 305.61,70.05" fill="#CCCCFF"/>
<polygon points="312.07,63.65 309.07,69.05 315.07,69.05" fill="#CCCCFF"/>
<polygon points="321.54,58.65 318.54,64.05 324.54,64.05" fill="#CCCCFF"/>
<polygon points="331,60.55 328,65.95 334,65.95" fill="#CCCCFF"/>
</g>
<line x1="62" y1="148" x2="66" y2="148" stroke="#1a1a1a" stroke-width="1.4"/>
<text x="55.1" y="151.1" font-family="'Liberation Sans', sans-serif" font-size="10" font-weight="bold" text-anchor="end" fill="#000" textLength="5.73" lengthAdjust="spacingAndGlyphs">1</text>
<line x1="62" y1="112.4" x2="66" y2="112.4" stroke="#1a1a1a" stroke-width="1.4"/>
<text x="55.1" y="115.5" font-family="'Liberation Sans', sans-serif" font-size="10" font-weight="bold" text-anchor="end" fill="#000" textLength="11.45" lengthAdjust="spacingAndGlyphs">10</text>
<line x1="62" y1="76.8" x2="66" y2="76.8" stroke="#1a1a1a" stroke-width="1.4"/>
<text x="55.1" y="79.9" font-family="'Liberation Sans', sans-serif" font-size="10" font-weight="bold" text-anchor="end" fill="#000" textLength="17.18" lengthAdjust="spacingAndGlyphs">100</text>
<line x1="62" y1="41.2" x2="66" y2="41.2" stroke="#1a1a1a" stroke-width="1.4"/>
<text x="55.1" y="44.3" font-family="'Liberation Sans', sans-serif" font-size="10" font-weight="bold" text-anchor="end" fill="#000" textLength="22.91" lengthAdjust="spacingAndGlyphs">1000</text>
<line x1="62" y1="5.6" x2="66" y2="5.6" stroke="#1a1a1a" stroke-width="1.4"/>
<text x="55.1" y="8.7" font-family="'Liberation Sans', sans-serif" font-size="10" font-weight="bold" text-anchor="end" fill="#000" textLength="28.63" lengthAdjust="spacingAndGlyphs">10000</text>
<line x1="66" y1="148" x2="66" y2="152" stroke="#1a1a1a" stroke-width="1.4"/>
<text x="66" y="166.3" font-family="'Liberation Sans', sans-serif" font-size="10" font-weight="bold" text-anchor="middle" fill="#000" textLength="20.04" lengthAdjust="spacingAndGlyphs">0.01</text>
<line x1="132.25" y1="148" x2="132.25" y2="152" stroke="#1a1a1a" stroke-width="1.4"/>
<text x="132.25" y="166.3" font-family="'Liberation Sans', sans-serif" font-size="10" font-weight="bold" text-anchor="middle" fill="#000" textLength="14.32" lengthAdjust="spacingAndGlyphs">0.1</text>
<line x1="198.5" y1="148" x2="198.5" y2="152" stroke="#1a1a1a" stroke-width="1.4"/>
<text x="198.5" y="166.3" font-family="'Liberation Sans', sans-serif" font-size="10" font-weight="bold" text-anchor="middle" fill="#000" textLength="5.73" lengthAdjust="spacingAndGlyphs">1</text>
<line x1="264.75" y1="148" x2="264.75" y2="152" stroke="#1a1a1a" stroke-width="1.4"/>
<text x="264.75" y="166.3" font-family="'Liberation Sans', sans-serif" font-size="10" font-weight="bold" text-anchor="middle" fill="#000" textLength="11.45" lengthAdjust="spacingAndGlyphs">10</text>
<line x1="331" y1="148" x2="331" y2="152" stroke="#1a1a1a" stroke-width="1.4"/>
<text x="331" y="166.3" font-family="'Liberation Sans', sans-serif" font-size="10" font-weight="bold" text-anchor="middle" fill="#000" textLength="17.18" lengthAdjust="spacingAndGlyphs">100</text>
<line x1="75.5" y1="16.6" x2="94.8" y2="16.6" stroke="#FFCCFF" stroke-width="1.7"/>
<circle cx="85.15" cy="16.6" r="2.6" fill="#FFCCFF"/>
<text x="96.5" y="20.1" font-family="'Liberation Sans', sans-serif" font-size="10.5" font-weight="bold" text-anchor="start" fill="#000" textLength="36.4" lengthAdjust="spacingAndGlyphs">AM1-G'</text>
<line x1="142.1" y1="16.6" x2="161.3" y2="16.6" stroke="#FFCCFF" stroke-width="1.7"/>
<polygon points="151.7,13.25 148.7,18.65 154.7,18.65" fill="#FFCCFF"/>
<text x="162.9" y="20.1" font-family="'Liberation Sans', sans-serif" font-size="10.5" font-weight="bold" text-anchor="start" fill="#000" textLength="38.6" lengthAdjust="spacingAndGlyphs">AM1-G"</text>
<line x1="208.1" y1="16.6" x2="227.5" y2="16.6" stroke="#66FFFF" stroke-width="1.7"/>
<circle cx="217.8" cy="16.6" r="2.6" fill="#66FFFF"/>
<text x="229.3" y="20.1" font-family="'Liberation Sans', sans-serif" font-size="10.5" font-weight="bold" text-anchor="start" fill="#000" textLength="36" lengthAdjust="spacingAndGlyphs">AM2-G'</text>
<line x1="75.5" y1="32.6" x2="94.8" y2="32.6" stroke="#66FFFF" stroke-width="1.7"/>
<polygon points="85.15,29.25 82.15,34.65 88.15,34.65" fill="#66FFFF"/>
<text x="96.5" y="36.2" font-family="'Liberation Sans', sans-serif" font-size="10.5" font-weight="bold" text-anchor="start" fill="#000" textLength="38.2" lengthAdjust="spacingAndGlyphs">AM2-G"</text>
<line x1="142.1" y1="32.6" x2="161.3" y2="32.6" stroke="#CCCCFF" stroke-width="1.7"/>
<circle cx="151.7" cy="32.6" r="2.6" fill="#CCCCFF"/>
<text x="162.9" y="36.2" font-family="'Liberation Sans', sans-serif" font-size="10.5" font-weight="bold" text-anchor="start" fill="#000" textLength="35.7" lengthAdjust="spacingAndGlyphs">AM3-G'</text>
<line x1="208.1" y1="32.6" x2="227.5" y2="32.6" stroke="#CCCCFF" stroke-width="1.7"/>
<polygon points="217.8,29.25 214.8,34.65 220.8,34.65" fill="#CCCCFF"/>
<text x="229.3" y="36.2" font-family="'Liberation Sans', sans-serif" font-size="10.5" font-weight="bold" text-anchor="start" fill="#000" textLength="38.6" lengthAdjust="spacingAndGlyphs">AM3-G"</text>
<text x="1.3" y="17.7" font-family="'Liberation Serif', serif" font-size="19.6" font-weight="bold" text-anchor="start" fill="#000" textLength="22" lengthAdjust="spacingAndGlyphs">(a)</text>
<text x="198.6" y="184.7" font-family="'Liberation Sans', sans-serif" font-size="11.6" font-weight="bold" text-anchor="middle" fill="#000" textLength="97.2" lengthAdjust="spacingAndGlyphs">Frequency (rad/s)</text>
<text x="0" y="0" font-family="'Liberation Sans', sans-serif" font-size="11.5" font-weight="bold" text-anchor="middle" textLength="72.3" lengthAdjust="spacingAndGlyphs" transform="translate(19.7,77.45) rotate(-90)">Modulus (Pa)</text>
<rect x="424.8" y="94.9" width="31.2" height="73" fill="#FFCCFF"/>
<rect x="456" y="55.7" width="31.8" height="112.2" fill="#66FFFF"/>
<rect x="487.8" y="47.1" width="31.1" height="120.8" fill="#CCCCFF"/>
<rect x="566.1" y="139.2" width="31.1" height="28.7" fill="#FFCCFF"/>
<rect x="597.2" y="96" width="31.1" height="71.9" fill="#66FFFF"/>
<rect x="628.3" y="82.4" width="31.4" height="85.5" fill="#CCCCFF"/>
<line x1="440.5" y1="87.6" x2="440.5" y2="108.4" stroke="#6e6e6e" stroke-width="1.1"/>
<line x1="438.2" y1="87.6" x2="442.8" y2="87.6" stroke="#6e6e6e" stroke-width="1.1"/>
<line x1="438.2" y1="108.4" x2="442.8" y2="108.4" stroke="#6e6e6e" stroke-width="1.1"/>
<line x1="471.8" y1="53.6" x2="471.8" y2="58.2" stroke="#6e6e6e" stroke-width="1.1"/>
<line x1="469.5" y1="53.6" x2="474.1" y2="53.6" stroke="#6e6e6e" stroke-width="1.1"/>
<line x1="469.5" y1="58.2" x2="474.1" y2="58.2" stroke="#6e6e6e" stroke-width="1.1"/>
<line x1="503.2" y1="40.9" x2="503.2" y2="55.2" stroke="#6e6e6e" stroke-width="1.1"/>
<line x1="500.9" y1="40.9" x2="505.5" y2="40.9" stroke="#6e6e6e" stroke-width="1.1"/>
<line x1="500.9" y1="55.2" x2="505.5" y2="55.2" stroke="#6e6e6e" stroke-width="1.1"/>
<line x1="581.6" y1="135.3" x2="581.6" y2="142.8" stroke="#6e6e6e" stroke-width="1.1"/>
<line x1="579.3" y1="135.3" x2="583.9" y2="135.3" stroke="#6e6e6e" stroke-width="1.1"/>
<line x1="579.3" y1="142.8" x2="583.9" y2="142.8" stroke="#6e6e6e" stroke-width="1.1"/>
<line x1="612.7" y1="95.2" x2="612.7" y2="96.6" stroke="#6e6e6e" stroke-width="1.1"/>
<line x1="610.4" y1="95.2" x2="615" y2="95.2" stroke="#6e6e6e" stroke-width="1.1"/>
<line x1="610.4" y1="96.6" x2="615" y2="96.6" stroke="#6e6e6e" stroke-width="1.1"/>
<line x1="644.1" y1="77.1" x2="644.1" y2="89.2" stroke="#6e6e6e" stroke-width="1.1"/>
<line x1="641.8" y1="77.1" x2="646.4" y2="77.1" stroke="#6e6e6e" stroke-width="1.1"/>
<line x1="641.8" y1="89.2" x2="646.4" y2="89.2" stroke="#6e6e6e" stroke-width="1.1"/>
<rect x="401.45" y="4.7" width="281.85" height="163.2" fill="none" stroke="#1a1a1a" stroke-width="1.4"/>
<line x1="397.95" y1="167.9" x2="684" y2="167.9" stroke="#383838" stroke-width="1.9"/>
<line x1="397.95" y1="167.7" x2="401.45" y2="167.7" stroke="#1a1a1a" stroke-width="1.3"/>
<text x="391.3" y="170.8" font-family="'Liberation Sans', sans-serif" font-size="10" font-weight="bold" text-anchor="end" fill="#000" textLength="5.73" lengthAdjust="spacingAndGlyphs">1</text>
<line x1="397.95" y1="122.3" x2="401.45" y2="122.3" stroke="#1a1a1a" stroke-width="1.3"/>
<text x="391.3" y="125.4" font-family="'Liberation Sans', sans-serif" font-size="10" font-weight="bold" text-anchor="end" fill="#000" textLength="11.45" lengthAdjust="spacingAndGlyphs">10</text>
<line x1="397.95" y1="76.9" x2="401.45" y2="76.9" stroke="#1a1a1a" stroke-width="1.3"/>
<text x="391.3" y="80" font-family="'Liberation Sans', sans-serif" font-size="10" font-weight="bold" text-anchor="end" fill="#000" textLength="17.18" lengthAdjust="spacingAndGlyphs">100</text>
<line x1="397.95" y1="31.5" x2="401.45" y2="31.5" stroke="#1a1a1a" stroke-width="1.3"/>
<text x="391.3" y="34.6" font-family="'Liberation Sans', sans-serif" font-size="10" font-weight="bold" text-anchor="end" fill="#000" textLength="22.91" lengthAdjust="spacingAndGlyphs">1000</text>
<line x1="463" y1="26.6" x2="502.7" y2="26.6" stroke="#000" stroke-width="1.3"/>
<text x="480.2" y="21.7" font-family="'Liberation Sans', sans-serif" font-size="12" font-weight="normal" text-anchor="middle" fill="#000" textLength="14" lengthAdjust="spacingAndGlyphs">ns</text>
<text x="469.5" y="46.6" font-family="'Liberation Sans', sans-serif" font-size="12" font-weight="normal" text-anchor="middle" fill="#000" textLength="14" lengthAdjust="spacingAndGlyphs">ns</text>
<line x1="503.6" y1="29.4" x2="503.6" y2="35.4" stroke="#000" stroke-width="1.15" stroke-linecap="round"/>
<line x1="501" y1="30.9" x2="506.2" y2="33.9" stroke="#000" stroke-width="1.15" stroke-linecap="round"/>
<line x1="506.2" y1="30.9" x2="501" y2="33.9" stroke="#000" stroke-width="1.15" stroke-linecap="round"/>
<line x1="605.9" y1="60.2" x2="645.8" y2="60.2" stroke="#000" stroke-width="1.3"/>
<text x="624.3" y="55.1" font-family="'Liberation Sans', sans-serif" font-size="12" font-weight="normal" text-anchor="middle" fill="#000" textLength="14" lengthAdjust="spacingAndGlyphs">ns</text>
<text x="612.7" y="89.7" font-family="'Liberation Sans', sans-serif" font-size="12" font-weight="normal" text-anchor="middle" fill="#000" textLength="14" lengthAdjust="spacingAndGlyphs">ns</text>
<line x1="644.2" y1="68.1" x2="644.2" y2="74.1" stroke="#000" stroke-width="1.15" stroke-linecap="round"/>
<line x1="641.6" y1="69.6" x2="646.8" y2="72.6" stroke="#000" stroke-width="1.15" stroke-linecap="round"/>
<line x1="646.8" y1="69.6" x2="641.6" y2="72.6" stroke="#000" stroke-width="1.15" stroke-linecap="round"/>
<rect x="562.8" y="16.0" width="6.2" height="5.8" fill="#FFCCFF"/>
<text x="572" y="22.2" font-family="'Liberation Sans', sans-serif" font-size="9.3" font-weight="bold" text-anchor="start" fill="#000" textLength="21.9" lengthAdjust="spacingAndGlyphs">AM1</text>
<rect x="602.9" y="16.0" width="6.2" height="5.8" fill="#66FFFF"/>
<text x="611.7" y="22.2" font-family="'Liberation Sans', sans-serif" font-size="9.3" font-weight="bold" text-anchor="start" fill="#000" textLength="21.9" lengthAdjust="spacingAndGlyphs">AM2</text>
<rect x="643.1" y="16.0" width="6.2" height="5.8" fill="#CCCCFF"/>
<text x="652" y="22.2" font-family="'Liberation Sans', sans-serif" font-size="9.3" font-weight="bold" text-anchor="start" fill="#000" textLength="21.9" lengthAdjust="spacingAndGlyphs">AM3</text>
<text x="348.1" y="17.9" font-family="'Liberation Serif', serif" font-size="19.7" font-weight="bold" text-anchor="start" fill="#000" textLength="23.3" lengthAdjust="spacingAndGlyphs">(b)</text>
<text x="471.85" y="188.4" font-family="'Liberation Sans', sans-serif" font-size="11.6" font-weight="bold" text-anchor="middle" fill="#000" textLength="11.4" lengthAdjust="spacingAndGlyphs">G'</text>
<text x="612.9" y="188.4" font-family="'Liberation Sans', sans-serif" font-size="11.6" font-weight="bold" text-anchor="middle" fill="#000" textLength="12.4" lengthAdjust="spacingAndGlyphs">G"</text>
<text x="0" y="0" font-family="'Liberation Sans', sans-serif" font-size="11.3" font-weight="bold" text-anchor="middle" textLength="71.3" lengthAdjust="spacingAndGlyphs" transform="translate(368.1,86.65) rotate(-90)">Modulus (Pa)</text>
<rect x="228.6" y="210" width="257.3" height="145.6" fill="none" stroke="#1a1a1a" stroke-width="1.5"/>
<polyline points="228.6,247.7 237.79,246.5 246.98,248.8 256.17,251.8 265.36,255.14 274.55,258.47 283.74,261.81 292.92,265.14 302.11,268.48 311.3,271.82 320.49,275.15 329.68,278.49 338.87,281.82 348.06,285.16 357.25,288.5 366.44,291.83 375.63,295.17 384.82,298.5 394.01,301.84 403.2,305.18 412.39,308.51 421.57,311.85 430.76,315.18 439.95,318.52 449.14,321.86 458.33,325.19 467.52,328.53 476.71,331.86 485.9,335.2" fill="none" stroke="#FFCCFF" stroke-width="1.6" stroke-linejoin="round"/>
<circle cx="237.79" cy="246.5" r="2.75" fill="#FFCCFF"/>
<circle cx="246.98" cy="248.8" r="2.75" fill="#FFCCFF"/>
<circle cx="256.17" cy="251.8" r="2.75" fill="#FFCCFF"/>
<circle cx="265.36" cy="255.14" r="2.75" fill="#FFCCFF"/>
<circle cx="274.55" cy="258.47" r="2.75" fill="#FFCCFF"/>
<circle cx="283.74" cy="261.81" r="2.75" fill="#FFCCFF"/>
<circle cx="292.92" cy="265.14" r="2.75" fill="#FFCCFF"/>
<circle cx="302.11" cy="268.48" r="2.75" fill="#FFCCFF"/>
<circle cx="311.3" cy="271.82" r="2.75" fill="#FFCCFF"/>
<circle cx="320.49" cy="275.15" r="2.75" fill="#FFCCFF"/>
<circle cx="329.68" cy="278.49" r="2.75" fill="#FFCCFF"/>
<circle cx="338.87" cy="281.82" r="2.75" fill="#FFCCFF"/>
<circle cx="348.06" cy="285.16" r="2.75" fill="#FFCCFF"/>
<circle cx="357.25" cy="288.5" r="2.75" fill="#FFCCFF"/>
<circle cx="366.44" cy="291.83" r="2.75" fill="#FFCCFF"/>
<circle cx="375.63" cy="295.17" r="2.75" fill="#FFCCFF"/>
<circle cx="384.82" cy="298.5" r="2.75" fill="#FFCCFF"/>
<circle cx="394.01" cy="301.84" r="2.75" fill="#FFCCFF"/>
<circle cx="403.2" cy="305.18" r="2.75" fill="#FFCCFF"/>
<circle cx="412.39" cy="308.51" r="2.75" fill="#FFCCFF"/>
<circle cx="421.57" cy="311.85" r="2.75" fill="#FFCCFF"/>
<circle cx="430.76" cy="315.18" r="2.75" fill="#FFCCFF"/>
<circle cx="439.95" cy="318.52" r="2.75" fill="#FFCCFF"/>
<circle cx="449.14" cy="321.86" r="2.75" fill="#FFCCFF"/>
<circle cx="458.33" cy="325.19" r="2.75" fill="#FFCCFF"/>
<circle cx="467.52" cy="328.53" r="2.75" fill="#FFCCFF"/>
<circle cx="476.71" cy="331.86" r="2.75" fill="#FFCCFF"/>
<circle cx="485.9" cy="335.2" r="2.75" fill="#FFCCFF"/>
<polyline points="228.6,237.4 237.79,238.9 246.98,242.12 256.17,245.34 265.36,248.56 274.55,251.78 283.74,255 292.92,258.22 302.11,261.44 311.3,264.66 320.49,267.88 329.68,271.1 338.87,274.32 348.06,277.54 357.25,280.76 366.44,283.98 375.63,287.2 384.82,290.42 394.01,293.64 403.2,296.86 412.39,300.08 421.57,303.3 430.76,306.52 439.95,309.74 449.14,312.96 458.33,316.18 467.52,319.4 476.71,322.62 485.9,325.84" fill="none" stroke="#66FFFF" stroke-width="1.6" stroke-linejoin="round"/>
<circle cx="237.79" cy="238.9" r="2.75" fill="#66FFFF"/>
<circle cx="246.98" cy="242.12" r="2.75" fill="#66FFFF"/>
<circle cx="256.17" cy="245.34" r="2.75" fill="#66FFFF"/>
<circle cx="265.36" cy="248.56" r="2.75" fill="#66FFFF"/>
<circle cx="274.55" cy="251.78" r="2.75" fill="#66FFFF"/>
<circle cx="283.74" cy="255" r="2.75" fill="#66FFFF"/>
<circle cx="292.92" cy="258.22" r="2.75" fill="#66FFFF"/>
<circle cx="302.11" cy="261.44" r="2.75" fill="#66FFFF"/>
<circle cx="311.3" cy="264.66" r="2.75" fill="#66FFFF"/>
<circle cx="320.49" cy="267.88" r="2.75" fill="#66FFFF"/>
<circle cx="329.68" cy="271.1" r="2.75" fill="#66FFFF"/>
<circle cx="338.87" cy="274.32" r="2.75" fill="#66FFFF"/>
<circle cx="348.06" cy="277.54" r="2.75" fill="#66FFFF"/>
<circle cx="357.25" cy="280.76" r="2.75" fill="#66FFFF"/>
<circle cx="366.44" cy="283.98" r="2.75" fill="#66FFFF"/>
<circle cx="375.63" cy="287.2" r="2.75" fill="#66FFFF"/>
<circle cx="384.82" cy="290.42" r="2.75" fill="#66FFFF"/>
<circle cx="394.01" cy="293.64" r="2.75" fill="#66FFFF"/>
<circle cx="403.2" cy="296.86" r="2.75" fill="#66FFFF"/>
<circle cx="412.39" cy="300.08" r="2.75" fill="#66FFFF"/>
<circle cx="421.57" cy="303.3" r="2.75" fill="#66FFFF"/>
<circle cx="430.76" cy="306.52" r="2.75" fill="#66FFFF"/>
<circle cx="439.95" cy="309.74" r="2.75" fill="#66FFFF"/>
<circle cx="449.14" cy="312.96" r="2.75" fill="#66FFFF"/>
<circle cx="458.33" cy="316.18" r="2.75" fill="#66FFFF"/>
<circle cx="467.52" cy="319.4" r="2.75" fill="#66FFFF"/>
<circle cx="476.71" cy="322.62" r="2.75" fill="#66FFFF"/>
<circle cx="485.9" cy="325.84" r="2.75" fill="#66FFFF"/>
<polyline points="228.6,229.6 237.79,232.93 246.98,236.26 256.17,239.59 265.36,242.92 274.55,246.25 283.74,249.58 292.92,252.91 302.11,256.24 311.3,259.57 320.49,262.9 329.68,266.23 338.87,269.56 348.06,272.89 357.25,276.22 366.44,279.55 375.63,282.88 384.82,286.21 394.01,289.54 403.2,292.87 412.39,296.2 421.57,299.53 430.76,302.86 439.95,306.19 449.14,309.52 458.33,312.85 467.52,316.18 476.71,319.51 485.9,322.84" fill="none" stroke="#CCCCFF" stroke-width="1.6" stroke-linejoin="round"/>
<circle cx="228.6" cy="229.6" r="2.75" fill="#CCCCFF"/>
<circle cx="237.79" cy="232.93" r="2.75" fill="#CCCCFF"/>
<circle cx="246.98" cy="236.26" r="2.75" fill="#CCCCFF"/>
<circle cx="256.17" cy="239.59" r="2.75" fill="#CCCCFF"/>
<circle cx="265.36" cy="242.92" r="2.75" fill="#CCCCFF"/>
<circle cx="274.55" cy="246.25" r="2.75" fill="#CCCCFF"/>
<circle cx="283.74" cy="249.58" r="2.75" fill="#CCCCFF"/>
<circle cx="292.92" cy="252.91" r="2.75" fill="#CCCCFF"/>
<circle cx="302.11" cy="256.24" r="2.75" fill="#CCCCFF"/>
<circle cx="311.3" cy="259.57" r="2.75" fill="#CCCCFF"/>
<circle cx="320.49" cy="262.9" r="2.75" fill="#CCCCFF"/>
<circle cx="329.68" cy="266.23" r="2.75" fill="#CCCCFF"/>
<circle cx="338.87" cy="269.56" r="2.75" fill="#CCCCFF"/>
<circle cx="348.06" cy="272.89" r="2.75" fill="#CCCCFF"/>
<circle cx="357.25" cy="276.22" r="2.75" fill="#CCCCFF"/>
<circle cx="366.44" cy="279.55" r="2.75" fill="#CCCCFF"/>
<circle cx="375.63" cy="282.88" r="2.75" fill="#CCCCFF"/>
<circle cx="384.82" cy="286.21" r="2.75" fill="#CCCCFF"/>
<circle cx="394.01" cy="289.54" r="2.75" fill="#CCCCFF"/>
<circle cx="403.2" cy="292.87" r="2.75" fill="#CCCCFF"/>
<circle cx="412.39" cy="296.2" r="2.75" fill="#CCCCFF"/>
<circle cx="421.57" cy="299.53" r="2.75" fill="#CCCCFF"/>
<circle cx="430.76" cy="302.86" r="2.75" fill="#CCCCFF"/>
<circle cx="439.95" cy="306.19" r="2.75" fill="#CCCCFF"/>
<circle cx="449.14" cy="309.52" r="2.75" fill="#CCCCFF"/>
<circle cx="458.33" cy="312.85" r="2.75" fill="#CCCCFF"/>
<circle cx="467.52" cy="316.18" r="2.75" fill="#CCCCFF"/>
<circle cx="476.71" cy="319.51" r="2.75" fill="#CCCCFF"/>
<circle cx="485.9" cy="322.84" r="2.75" fill="#CCCCFF"/>
<line x1="225.1" y1="355.6" x2="228.6" y2="355.6" stroke="#1a1a1a" stroke-width="1.4"/>
<text x="217.8" y="358.8" font-family="'Liberation Sans', sans-serif" font-size="10" font-weight="bold" text-anchor="end" fill="#000" textLength="20.04" lengthAdjust="spacingAndGlyphs">0.01</text>
<line x1="225.1" y1="326.48" x2="228.6" y2="326.48" stroke="#1a1a1a" stroke-width="1.4"/>
<text x="217.8" y="329.68" font-family="'Liberation Sans', sans-serif" font-size="10" font-weight="bold" text-anchor="end" fill="#000" textLength="14.32" lengthAdjust="spacingAndGlyphs">0.1</text>
<line x1="225.1" y1="297.36" x2="228.6" y2="297.36" stroke="#1a1a1a" stroke-width="1.4"/>
<text x="217.8" y="300.56" font-family="'Liberation Sans', sans-serif" font-size="10" font-weight="bold" text-anchor="end" fill="#000" textLength="5.73" lengthAdjust="spacingAndGlyphs">1</text>
<line x1="225.1" y1="268.24" x2="228.6" y2="268.24" stroke="#1a1a1a" stroke-width="1.4"/>
<text x="217.8" y="271.44" font-family="'Liberation Sans', sans-serif" font-size="10" font-weight="bold" text-anchor="end" fill="#000" textLength="11.45" lengthAdjust="spacingAndGlyphs">10</text>
<line x1="225.1" y1="239.12" x2="228.6" y2="239.12" stroke="#1a1a1a" stroke-width="1.4"/>
<text x="217.8" y="242.32" font-family="'Liberation Sans', sans-serif" font-size="10" font-weight="bold" text-anchor="end" fill="#000" textLength="17.18" lengthAdjust="spacingAndGlyphs">100</text>
<line x1="225.1" y1="210" x2="228.6" y2="210" stroke="#1a1a1a" stroke-width="1.4"/>
<text x="217.8" y="213.2" font-family="'Liberation Sans', sans-serif" font-size="10" font-weight="bold" text-anchor="end" fill="#000" textLength="22.91" lengthAdjust="spacingAndGlyphs">1000</text>
<line x1="228.6" y1="355.6" x2="228.6" y2="359.1" stroke="#1a1a1a" stroke-width="1.4"/>
<text x="228.6" y="373.8" font-family="'Liberation Sans', sans-serif" font-size="10" font-weight="bold" text-anchor="middle" fill="#000" textLength="14.32" lengthAdjust="spacingAndGlyphs">0.1</text>
<line x1="292.92" y1="355.6" x2="292.92" y2="359.1" stroke="#1a1a1a" stroke-width="1.4"/>
<text x="292.92" y="373.8" font-family="'Liberation Sans', sans-serif" font-size="10" font-weight="bold" text-anchor="middle" fill="#000" textLength="5.73" lengthAdjust="spacingAndGlyphs">1</text>
<line x1="357.25" y1="355.6" x2="357.25" y2="359.1" stroke="#1a1a1a" stroke-width="1.4"/>
<text x="357.25" y="373.8" font-family="'Liberation Sans', sans-serif" font-size="10" font-weight="bold" text-anchor="middle" fill="#000" textLength="11.45" lengthAdjust="spacingAndGlyphs">10</text>
<line x1="421.57" y1="355.6" x2="421.57" y2="359.1" stroke="#1a1a1a" stroke-width="1.4"/>
<text x="421.57" y="373.8" font-family="'Liberation Sans', sans-serif" font-size="10" font-weight="bold" text-anchor="middle" fill="#000" textLength="17.18" lengthAdjust="spacingAndGlyphs">100</text>
<line x1="485.9" y1="355.6" x2="485.9" y2="359.1" stroke="#1a1a1a" stroke-width="1.4"/>
<text x="485.9" y="373.8" font-family="'Liberation Sans', sans-serif" font-size="10" font-weight="bold" text-anchor="middle" fill="#000" textLength="22.91" lengthAdjust="spacingAndGlyphs">1000</text>
<line x1="427.4" y1="226.8" x2="446.2" y2="226.8" stroke="#FFCCFF" stroke-width="1.6"/>
<circle cx="436.6" cy="226.8" r="2.6" fill="#FFCCFF"/>
<text x="448.3" y="231.2" font-family="'Liberation Sans', sans-serif" font-size="12" font-weight="bold" text-anchor="start" fill="#000" textLength="26.3" lengthAdjust="spacingAndGlyphs">AM1</text>
<line x1="427.4" y1="248.6" x2="446.2" y2="248.6" stroke="#66FFFF" stroke-width="1.6"/>
<circle cx="436.6" cy="248.6" r="2.6" fill="#66FFFF"/>
<text x="448.3" y="253" font-family="'Liberation Sans', sans-serif" font-size="12" font-weight="bold" text-anchor="start" fill="#000" textLength="26.3" lengthAdjust="spacingAndGlyphs">AM2</text>
<line x1="427.4" y1="270.4" x2="446.2" y2="270.4" stroke="#CCCCFF" stroke-width="1.6"/>
<circle cx="436.6" cy="270.4" r="2.6" fill="#CCCCFF"/>
<text x="448.3" y="274.8" font-family="'Liberation Sans', sans-serif" font-size="12" font-weight="bold" text-anchor="start" fill="#000" textLength="26.3" lengthAdjust="spacingAndGlyphs">AM3</text>
<text x="152.6" y="222.7" font-family="'Liberation Serif', serif" font-size="19.2" font-weight="bold" text-anchor="start" fill="#000" textLength="21" lengthAdjust="spacingAndGlyphs">(c)</text>
<text x="316.4" y="392.3" font-family="'Liberation Sans', sans-serif" font-size="11.7" font-weight="bold" textLength="81.6" lengthAdjust="spacingAndGlyphs">Shear rate (s<tspan dy="-4" font-size="7">-1</tspan><tspan dy="4">)</tspan></text>
<text x="0" y="0" font-family="'Liberation Sans', sans-serif" font-size="11.8" font-weight="bold" text-anchor="middle" textLength="81.6" lengthAdjust="spacingAndGlyphs" transform="translate(185.4,283.4) rotate(-90)">Viscosity (Pa.s)</text>
</svg></div>
</body></html>
